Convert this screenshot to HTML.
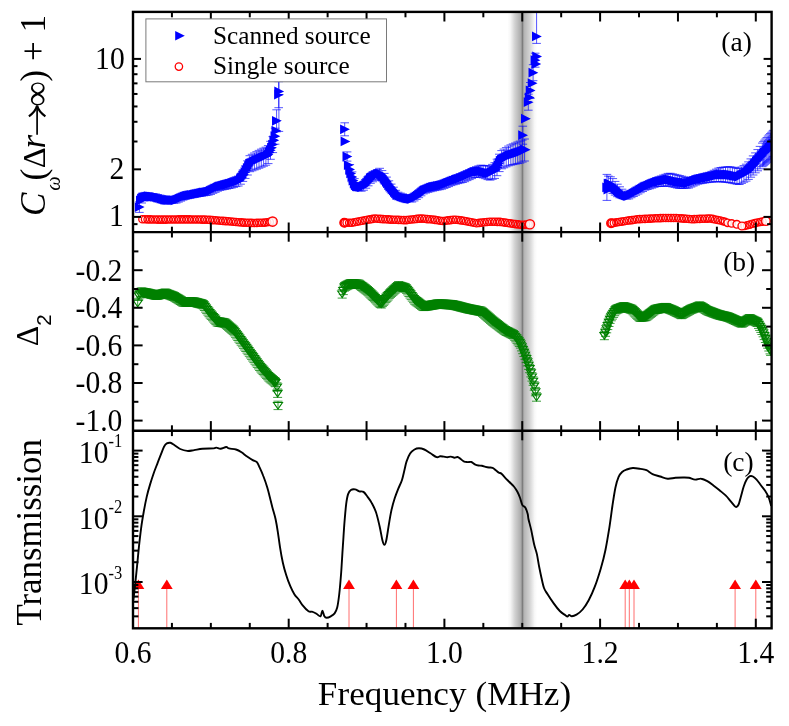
<!DOCTYPE html>
<html><head><meta charset="utf-8"><title>chart</title>
<style>html,body{margin:0;padding:0;background:#fff}body{width:789px;height:726px;overflow:hidden;position:relative;font-family:"Liberation Serif",serif}</style></head>
<body>
<svg width="789" height="726" viewBox="0 0 789 726" style="position:absolute;left:0;top:0;will-change:transform;font-family:'Liberation Serif',serif" shape-rendering="auto">
<defs><linearGradient id="gl" x1="0" x2="1" y1="0" y2="0"><stop offset="0" stop-color="#000" stop-opacity="0"/><stop offset="0.2" stop-color="#000" stop-opacity="0.035"/><stop offset="0.5" stop-color="#000" stop-opacity="0.18"/><stop offset="1" stop-color="#000" stop-opacity="0.37"/></linearGradient><linearGradient id="gr" x1="0" x2="1" y1="0" y2="0"><stop offset="0" stop-color="#000" stop-opacity="0.33"/><stop offset="0.5" stop-color="#000" stop-opacity="0.17"/><stop offset="0.82" stop-color="#000" stop-opacity="0.03"/><stop offset="1" stop-color="#000" stop-opacity="0"/></linearGradient><clipPath id="ca"><rect x="133.0" y="11.9" width="638.6" height="220.2"/></clipPath><clipPath id="cb"><rect x="133.0" y="232.1" width="638.6" height="198.6"/></clipPath><clipPath id="cc"><rect x="133.0" y="430.7" width="638.6" height="197.59999999999997"/></clipPath></defs>
<rect width="789" height="726" fill="#fff"/>
<rect x="507.3" y="11.9" width="15.2" height="616.4" fill="url(#gl)"/>
<rect x="522.5" y="11.9" width="14.7" height="616.4" fill="url(#gr)"/>
<rect x="521.7" y="11.9" width="1.6" height="616.4" fill="#000" fill-opacity="0.28"/>
<g clip-path="url(#ca)">
<path d="M139.4,201.8V212.4M135.1,201.8H143.7M135.1,212.4H143.7M141.7,194.2V203.0M137.4,194.2H146.0M137.4,203.0H146.0M144.0,193.4V200.9M139.7,193.4H148.3M139.7,200.9H148.3M146.3,193.3V200.0M142.0,193.3H150.6M142.0,200.0H150.6M148.6,193.2V199.2M144.3,193.2H152.9M144.3,199.2H152.9M150.9,193.5V199.5M146.6,193.5H155.2M146.6,199.5H155.2M153.2,193.7V199.7M148.9,193.7H157.5M148.9,199.7H157.5M155.5,193.9V199.9M151.2,193.9H159.8M151.2,199.9H159.8M157.8,194.5V200.5M153.5,194.5H162.1M153.5,200.5H162.1M160.1,195.1V201.1M155.8,195.1H164.4M155.8,201.1H164.4M162.4,195.8V201.8M158.1,195.8H166.7M158.1,201.8H166.7M164.7,196.5V202.5M160.4,196.5H169.0M160.4,202.5H169.0M167.0,196.9V202.9M162.7,196.9H171.3M162.7,202.9H171.3M169.3,197.0V203.0M165.0,197.0H173.6M165.0,203.0H173.6M171.6,197.1V203.1M167.3,197.1H175.9M167.3,203.1H175.9M173.9,197.2V203.2M169.6,197.2H178.2M169.6,203.2H178.2M176.2,197.0V203.0M171.9,197.0H180.5M171.9,203.0H180.5M178.5,196.1V202.1M174.2,196.1H182.8M174.2,202.1H182.8M180.8,195.1V201.1M176.5,195.1H185.1M176.5,201.1H185.1M183.1,194.1V200.1M178.8,194.1H187.4M178.8,200.1H187.4M185.4,193.2V199.2M181.1,193.2H189.7M181.1,199.2H189.7M187.7,192.7V198.7M183.4,192.7H192.0M183.4,198.7H192.0M190.0,192.2V198.2M185.7,192.2H194.3M185.7,198.2H194.3M192.3,191.8V197.8M188.0,191.8H196.6M188.0,197.8H196.6M194.6,191.3V197.3M190.3,191.3H198.9M190.3,197.3H198.9M196.9,190.9V196.9M192.6,190.9H201.2M192.6,196.9H201.2M199.2,190.3V196.5M194.9,190.3H203.5M194.9,196.5H203.5M201.5,189.8V196.2M197.2,189.8H205.8M197.2,196.2H205.8M203.8,189.2V195.8M199.5,189.2H208.1M199.5,195.8H208.1M206.1,188.6V195.5M201.8,188.6H210.4M201.8,195.5H210.4M208.4,188.1V195.1M204.1,188.1H212.7M204.1,195.1H212.7M210.7,187.1V194.4M206.4,187.1H215.0M206.4,194.4H215.0M213.0,185.9V193.3M208.7,185.9H217.3M208.7,193.3H217.3M215.3,184.6V192.3M211.0,184.6H219.6M211.0,192.3H219.6M217.6,183.4V191.2M213.3,183.4H221.9M213.3,191.2H221.9M219.9,182.3V190.4M215.6,182.3H224.2M215.6,190.4H224.2M222.2,181.6V189.9M217.9,181.6H226.5M217.9,189.9H226.5M224.5,180.9V189.5M220.2,180.9H228.8M220.2,189.5H228.8M226.8,180.2V189.0M222.5,180.2H231.1M222.5,189.0H231.1M229.1,179.5V188.5M224.8,179.5H233.4M224.8,188.5H233.4M231.4,178.8V188.0M227.1,178.8H235.7M227.1,188.0H235.7M233.7,177.9V187.3M229.4,177.9H238.0M229.4,187.3H238.0M236.0,177.0V186.6M231.7,177.0H240.3M231.7,186.6H240.3M238.3,176.1V186.0M234.0,176.1H242.6M234.0,186.0H242.6M240.6,173.8V184.2M236.3,173.8H244.9M236.3,184.2H244.9M242.9,170.1V181.4M238.6,170.1H247.2M238.6,181.4H247.2M245.2,166.0V178.4M240.9,166.0H249.5M240.9,178.4H249.5M247.5,160.8V175.0M243.2,160.8H251.8M243.2,175.0H251.8M249.8,155.7V171.7M245.5,155.7H254.1M245.5,171.7H254.1M252.1,154.3V170.8M247.8,154.3H256.4M247.8,170.8H256.4M254.4,153.0V169.9M250.1,153.0H258.7M250.1,169.9H258.7M256.7,151.7V169.1M252.4,151.7H261.0M252.4,169.1H261.0M259.0,150.4V168.2M254.7,150.4H263.3M254.7,168.2H263.3M261.3,149.2V167.2M257.0,149.2H265.6M257.0,167.2H265.6M263.6,148.2V166.2M259.3,148.2H267.9M259.3,166.2H267.9M265.9,147.2V165.2M261.6,147.2H270.2M261.6,165.2H270.2M268.2,145.6V163.6M263.9,145.6H272.5M263.9,163.6H272.5M270.5,141.3V159.3M266.2,141.3H274.8M266.2,159.3H274.8M272.8,136.6V152.6M268.5,136.6H277.1M268.5,152.6H277.1M275.1,128.2V144.2M270.8,128.2H279.4M270.8,144.2H279.4M276.6,109.8V131.8M272.3,109.8H280.9M272.3,131.8H280.9M278.7,81.7V107.7M274.4,81.7H283.0M274.4,107.7H283.0M278.9,51.4V131.4M274.6,51.4H283.2M274.6,131.4H283.2" fill="none" stroke="#0000ff" stroke-width="0.85" stroke-opacity="0.8"/>
<path d="M134.8,202.2L144.6,207.1L134.8,212.0ZM136.0,195.6L145.8,200.5L136.0,205.4ZM137.1,193.7L146.9,198.6L137.1,203.5ZM138.3,192.5L148.1,197.4L138.3,202.3ZM139.4,192.2L149.2,197.1L139.4,202.0ZM140.6,192.0L150.4,196.9L140.6,201.8ZM141.7,191.7L151.5,196.6L141.7,201.5ZM142.9,191.5L152.7,196.4L142.9,201.3ZM144.0,191.3L153.8,196.2L144.0,201.1ZM145.2,191.4L155.0,196.3L145.2,201.2ZM146.3,191.6L156.1,196.5L146.3,201.4ZM147.5,191.7L157.3,196.6L147.5,201.5ZM148.6,191.8L158.4,196.7L148.6,201.6ZM149.8,191.9L159.6,196.8L149.8,201.7ZM150.9,192.0L160.7,196.9L150.9,201.8ZM152.1,192.2L161.9,197.1L152.1,202.0ZM153.2,192.6L163.0,197.5L153.2,202.4ZM154.4,192.9L164.2,197.8L154.4,202.7ZM155.5,193.2L165.3,198.1L155.5,203.0ZM156.7,193.6L166.5,198.5L156.7,203.4ZM157.8,193.9L167.6,198.8L157.8,203.7ZM159.0,194.3L168.8,199.2L159.0,204.1ZM160.1,194.6L169.9,199.5L160.1,204.4ZM161.3,195.0L171.1,199.9L161.3,204.8ZM162.4,195.0L172.2,199.9L162.4,204.8ZM163.6,195.1L173.4,200.0L163.6,204.9ZM164.7,195.1L174.5,200.0L164.7,204.9ZM165.9,195.2L175.7,200.1L165.9,205.0ZM167.0,195.2L176.8,200.1L167.0,205.0ZM168.2,195.3L178.0,200.2L168.2,205.1ZM169.3,195.3L179.1,200.2L169.3,205.1ZM170.5,195.4L180.3,200.3L170.5,205.2ZM171.6,195.1L181.4,200.0L171.6,204.9ZM172.8,194.7L182.6,199.6L172.8,204.5ZM173.9,194.2L183.7,199.1L173.9,204.0ZM175.1,193.7L184.9,198.6L175.1,203.5ZM176.2,193.2L186.0,198.1L176.2,203.0ZM177.4,192.7L187.2,197.6L177.4,202.5ZM178.5,192.2L188.3,197.1L178.5,202.0ZM179.7,191.7L189.5,196.6L179.7,201.5ZM180.8,191.3L190.6,196.2L180.8,201.1ZM182.0,191.0L191.8,195.9L182.0,200.8ZM183.1,190.8L192.9,195.7L183.1,200.6ZM184.3,190.6L194.1,195.5L184.3,200.4ZM185.4,190.3L195.2,195.2L185.4,200.1ZM186.6,190.1L196.4,195.0L186.6,199.9ZM187.7,189.9L197.5,194.8L187.7,199.7ZM188.9,189.7L198.7,194.6L188.9,199.5ZM190.0,189.4L199.8,194.3L190.0,199.2ZM191.2,189.2L201.0,194.1L191.2,199.0ZM192.3,189.0L202.1,193.9L192.3,198.8ZM193.5,188.8L203.3,193.7L193.5,198.6ZM194.6,188.5L204.4,193.4L194.6,198.3ZM195.8,188.3L205.6,193.2L195.8,198.1ZM196.9,188.1L206.7,193.0L196.9,197.9ZM198.1,187.8L207.9,192.7L198.1,197.6ZM199.2,187.6L209.0,192.5L199.2,197.4ZM200.4,187.4L210.2,192.3L200.4,197.2ZM201.5,187.2L211.3,192.1L201.5,197.0ZM202.7,186.9L212.5,191.8L202.7,196.7ZM203.8,186.7L213.6,191.6L203.8,196.5ZM205.0,186.4L214.8,191.3L205.0,196.2ZM206.1,185.8L215.9,190.7L206.1,195.6ZM207.3,185.3L217.1,190.2L207.3,195.1ZM208.4,184.7L218.2,189.6L208.4,194.5ZM209.6,184.1L219.4,189.0L209.6,193.9ZM210.7,183.5L220.5,188.4L210.7,193.3ZM211.9,183.0L221.7,187.9L211.9,192.8ZM213.0,182.4L222.8,187.3L213.0,192.2ZM214.2,181.8L224.0,186.7L214.2,191.6ZM215.3,181.5L225.1,186.4L215.3,191.3ZM216.5,181.2L226.3,186.1L216.5,191.0ZM217.6,180.9L227.4,185.8L217.6,190.7ZM218.8,180.6L228.6,185.5L218.8,190.4ZM219.9,180.3L229.7,185.2L219.9,190.1ZM221.1,180.0L230.9,184.9L221.1,189.8ZM222.2,179.7L232.0,184.6L222.2,189.5ZM223.4,179.4L233.2,184.3L223.4,189.2ZM224.5,179.1L234.3,184.0L224.5,188.9ZM225.7,178.8L235.5,183.7L225.7,188.6ZM226.8,178.5L236.6,183.4L226.8,188.3ZM228.0,178.1L237.8,183.0L228.0,187.9ZM229.1,177.7L238.9,182.6L229.1,187.5ZM230.3,177.3L240.1,182.2L230.3,187.1ZM231.4,176.9L241.2,181.8L231.4,186.7ZM232.6,176.5L242.4,181.4L232.6,186.3ZM233.7,176.1L243.5,181.0L233.7,185.9ZM234.9,175.7L244.7,180.6L234.9,185.5ZM236.0,174.1L245.8,179.0L236.0,183.9ZM237.2,172.5L247.0,177.4L237.2,182.3ZM238.3,170.8L248.1,175.7L238.3,180.6ZM239.5,169.2L249.3,174.1L239.5,179.0ZM240.6,167.3L250.4,172.2L240.6,177.1ZM241.8,165.2L251.6,170.1L241.8,175.0ZM242.9,163.0L252.7,167.9L242.9,172.8ZM244.1,160.9L253.9,165.8L244.1,170.7ZM245.2,158.8L255.0,163.7L245.2,168.6ZM246.4,158.2L256.2,163.1L246.4,168.0ZM247.5,157.7L257.3,162.6L247.5,167.5ZM248.7,157.1L258.5,162.0L248.7,166.9ZM249.8,156.6L259.6,161.5L249.8,166.4ZM251.0,156.0L260.8,160.9L251.0,165.8ZM252.1,155.5L261.9,160.4L252.1,165.3ZM253.3,154.9L263.1,159.8L253.3,164.7ZM254.4,154.4L264.2,159.3L254.4,164.2ZM255.6,153.8L265.4,158.7L255.6,163.6ZM256.7,153.3L266.5,158.2L256.7,163.1ZM257.9,152.8L267.7,157.7L257.9,162.6ZM259.0,152.3L268.8,157.2L259.0,162.1ZM260.2,151.8L270.0,156.7L260.2,161.6ZM261.3,151.3L271.1,156.2L261.3,161.1ZM262.5,150.7L272.3,155.6L262.5,160.5ZM263.6,149.7L273.4,154.6L263.6,159.5ZM264.8,147.5L274.6,152.4L264.8,157.3ZM265.9,145.4L275.7,150.3L265.9,155.2ZM267.1,142.8L276.9,147.7L267.1,152.6ZM268.2,139.7L278.0,144.6L268.2,149.5ZM269.4,135.4L279.2,140.3L269.4,145.2ZM270.5,131.3L280.3,136.2L270.5,141.1ZM271.5,125.8L281.3,130.7L271.5,135.6ZM272.0,115.9L281.8,120.8L272.0,125.7ZM274.1,89.8L283.9,94.7L274.1,99.6ZM274.3,86.5L284.1,91.4L274.3,96.3Z" fill="#0000ff"/>
<path d="M344.7,122.8V135.8M340.4,122.8H349.0M340.4,135.8H349.0M347.1,151.9V161.1M342.8,151.9H351.4M342.8,161.1H351.4M349.8,164.5V174.5M345.5,164.5H354.1M345.5,174.5H354.1M352.1,171.9V181.9M347.8,171.9H356.4M347.8,181.9H356.4M354.4,178.6V188.0M350.1,178.6H358.7M350.1,188.0H358.7M356.7,182.3V190.3M352.4,182.3H361.0M352.4,190.3H361.0M359.0,182.7V190.7M354.7,182.7H363.3M354.7,190.7H363.3M361.3,183.2V191.2M357.0,183.2H365.6M357.0,191.2H365.6M363.6,182.2V190.2M359.3,182.2H367.9M359.3,190.2H367.9M365.9,179.9V188.2M361.6,179.9H370.2M361.6,188.2H370.2M368.2,176.7V185.8M363.9,176.7H372.5M363.9,185.8H372.5M370.5,173.5V183.3M366.2,173.5H374.8M366.2,183.3H374.8M372.8,171.8V181.8M368.5,171.8H377.1M368.5,181.8H377.1M375.1,170.6V180.6M370.8,170.6H379.4M370.8,180.6H379.4M377.4,169.5V179.5M373.1,169.5H381.7M373.1,179.5H381.7M379.7,168.3V178.3M375.4,168.3H384.0M375.4,178.3H384.0M382.0,170.6V180.6M377.7,170.6H386.3M377.7,180.6H386.3M384.3,173.4V183.2M380.0,173.4H388.6M380.0,183.2H388.6M386.6,177.1V186.2M382.3,177.1H390.9M382.3,186.2H390.9M388.9,180.8V189.1M384.6,180.8H393.2M384.6,189.1H393.2M391.2,184.1V191.7M386.9,184.1H395.5M386.9,191.7H395.5M393.5,187.2V194.2M389.2,187.2H397.8M389.2,194.2H397.8M395.8,190.3V196.6M391.5,190.3H400.1M391.5,196.6H400.1M398.1,192.2V198.2M393.8,192.2H402.4M393.8,198.2H402.4M400.4,193.1V199.1M396.1,193.1H404.7M396.1,199.1H404.7M402.7,193.9V199.9M398.4,193.9H407.0M398.4,199.9H407.0M405.0,194.7V200.7M400.7,194.7H409.3M400.7,200.7H409.3M407.3,195.3V201.3M403.0,195.3H411.6M403.0,201.3H411.6M409.6,195.7V201.7M405.3,195.7H413.9M405.3,201.7H413.9M411.9,196.0V202.0M407.6,196.0H416.2M407.6,202.0H416.2M414.2,194.9V200.9M409.9,194.9H418.5M409.9,200.9H418.5M416.5,193.4V199.4M412.2,193.4H420.8M412.2,199.4H420.8M418.8,191.7V197.7M414.5,191.7H423.1M414.5,197.7H423.1M421.1,189.8V195.8M416.8,189.8H425.4M416.8,195.8H425.4M423.4,187.9V193.9M419.1,187.9H427.7M419.1,193.9H427.7M425.7,186.5V193.0M421.4,186.5H430.0M421.4,193.0H430.0M428.0,185.3V192.3M423.7,185.3H432.3M423.7,192.3H432.3M430.3,184.0V191.7M426.0,184.0H434.6M426.0,191.7H434.6M432.6,183.1V191.1M428.3,183.1H436.9M428.3,191.1H436.9M434.9,182.6V190.6M430.6,182.6H439.2M430.6,190.6H439.2M437.2,182.1V190.1M432.9,182.1H441.5M432.9,190.1H441.5M439.5,181.7V189.7M435.2,181.7H443.8M435.2,189.7H443.8M441.8,181.2V189.2M437.5,181.2H446.1M437.5,189.2H446.1M444.1,180.4V188.4M439.8,180.4H448.4M439.8,188.4H448.4M446.4,179.5V187.5M442.1,179.5H450.7M442.1,187.5H450.7M448.7,178.6V186.6M444.4,178.6H453.0M444.4,186.6H453.0M451.0,177.6V185.6M446.7,177.6H455.3M446.7,185.6H455.3M453.3,176.7V184.8M449.0,176.7H457.6M449.0,184.8H457.6M455.6,175.7V184.2M451.3,175.7H459.9M451.3,184.2H459.9M457.9,174.7V183.6M453.6,174.7H462.2M453.6,183.6H462.2M460.2,173.7V183.0M455.9,173.7H464.5M455.9,183.0H464.5M462.5,172.7V182.5M458.2,172.7H466.8M458.2,182.5H466.8M464.8,171.7V181.7M460.5,171.7H469.1M460.5,181.7H469.1M467.1,170.6V180.6M462.8,170.6H471.4M462.8,180.6H471.4M469.4,169.6V179.6M465.1,169.6H473.7M465.1,179.6H473.7M471.7,168.6V178.6M467.4,168.6H476.0M467.4,178.6H476.0M474.0,167.5V177.5M469.7,167.5H478.3M469.7,177.5H478.3M476.3,166.7V177.2M472.0,166.7H480.6M472.0,177.2H480.6M478.6,165.9V177.1M474.3,165.9H482.9M474.3,177.1H482.9M480.9,165.2V177.1M476.6,165.2H485.2M476.6,177.1H485.2M483.2,165.4V177.9M478.9,165.4H487.5M478.9,177.9H487.5M485.5,165.7V178.7M481.2,165.7H489.8M481.2,178.7H489.8M487.8,166.0V179.6M483.5,166.0H492.1M483.5,179.6H492.1M490.1,166.0V180.1M485.8,166.0H494.4M485.8,180.1H494.4M492.4,164.4V179.3M488.1,164.4H496.7M488.1,179.3H496.7M494.7,162.7V178.4M490.4,162.7H499.0M490.4,178.4H499.0M497.0,159.2V175.7M492.7,159.2H501.3M492.7,175.7H501.3M499.3,154.2V171.6M495.0,154.2H503.6M495.0,171.6H503.6M501.6,150.6V168.8M497.3,150.6H505.9M497.3,168.8H505.9M503.9,149.1V167.8M499.6,149.1H508.2M499.6,167.8H508.2M506.2,147.6V166.8M501.9,147.6H510.5M501.9,166.8H510.5M508.5,146.1V165.8M504.2,146.1H512.8M504.2,165.8H512.8M510.8,144.9V165.1M506.5,144.9H515.1M506.5,165.1H515.1M513.1,143.9V164.6M508.8,143.9H517.4M508.8,164.6H517.4M515.4,143.0V164.1M511.1,143.0H519.7M511.1,164.1H519.7M517.7,142.0V163.6M513.4,142.0H522.0M513.4,163.6H522.0M520.0,141.1V163.1M515.7,141.1H524.3M515.7,163.1H524.3M522.3,140.1V162.1M518.0,140.1H526.6M518.0,162.1H526.6M524.6,139.0V161.0M520.3,139.0H528.9M520.3,161.0H528.9M522.8,126.2V144.2M518.5,126.2H527.1M518.5,144.2H527.1M528.3,94.2V110.2M524.0,94.2H532.6M524.0,110.2H532.6M530.3,82.5V98.5M526.0,82.5H534.6M526.0,98.5H534.6M533.1,64.7V80.7M528.8,64.7H537.4M528.8,80.7H537.4M535.2,53.2V67.2M530.9,53.2H539.5M530.9,67.2H539.5M536.6,6.4V43.4M532.3,6.4H540.9M532.3,43.4H540.9" fill="none" stroke="#0000ff" stroke-width="0.85" stroke-opacity="0.8"/>
<path d="M340.1,124.4L349.9,129.3L340.1,134.2ZM340.6,136.5L350.4,141.4L340.6,146.3ZM342.5,151.6L352.3,156.5L342.5,161.4ZM343.9,160.2L353.7,165.1L343.9,170.0ZM345.2,164.6L355.0,169.5L345.2,174.4ZM346.3,168.5L356.1,173.4L346.3,178.3ZM347.5,172.0L357.3,176.9L347.5,181.8ZM348.6,175.7L358.4,180.6L348.6,185.5ZM349.8,178.4L359.6,183.3L349.8,188.2ZM350.9,180.4L360.7,185.3L350.9,190.2ZM352.1,181.4L361.9,186.3L352.1,191.2ZM353.2,181.6L363.0,186.5L353.2,191.4ZM354.4,181.8L364.2,186.7L354.4,191.6ZM355.5,182.0L365.3,186.9L355.5,191.8ZM356.7,182.3L366.5,187.2L356.7,192.1ZM357.8,182.1L367.6,187.0L357.8,191.9ZM359.0,181.3L368.8,186.2L359.0,191.1ZM360.1,180.4L369.9,185.3L360.1,190.2ZM361.3,179.1L371.1,184.0L361.3,188.9ZM362.4,177.7L372.2,182.6L362.4,187.5ZM363.6,176.3L373.4,181.2L363.6,186.1ZM364.7,174.9L374.5,179.8L364.7,184.7ZM365.9,173.5L375.7,178.4L365.9,183.3ZM367.0,172.5L376.8,177.4L367.0,182.3ZM368.2,171.9L378.0,176.8L368.2,181.7ZM369.3,171.3L379.1,176.2L369.3,181.1ZM370.5,170.7L380.3,175.6L370.5,180.5ZM371.6,170.2L381.4,175.1L371.6,180.0ZM372.8,169.6L382.6,174.5L372.8,179.4ZM373.9,169.0L383.7,173.9L373.9,178.8ZM375.1,168.4L384.9,173.3L375.1,178.2ZM376.2,169.5L386.0,174.4L376.2,179.3ZM377.4,170.7L387.2,175.6L377.4,180.5ZM378.5,172.0L388.3,176.9L378.5,181.8ZM379.7,173.4L389.5,178.3L379.7,183.2ZM380.8,175.1L390.6,180.0L380.8,184.9ZM382.0,176.7L391.8,181.6L382.0,186.5ZM383.1,178.4L392.9,183.3L383.1,188.2ZM384.3,180.1L394.1,185.0L384.3,189.9ZM385.4,181.7L395.2,186.6L385.4,191.5ZM386.6,183.0L396.4,187.9L386.6,192.8ZM387.7,184.4L397.5,189.3L387.7,194.2ZM388.9,185.8L398.7,190.7L388.9,195.6ZM390.0,187.2L399.8,192.1L390.0,197.0ZM391.2,188.5L401.0,193.4L391.2,198.3ZM392.3,189.9L402.1,194.8L392.3,199.7ZM393.5,190.3L403.3,195.2L393.5,200.1ZM394.6,190.7L404.4,195.6L394.6,200.5ZM395.8,191.2L405.6,196.1L395.8,201.0ZM396.9,191.6L406.7,196.5L396.9,201.4ZM398.1,192.0L407.9,196.9L398.1,201.8ZM399.2,192.4L409.0,197.3L399.2,202.2ZM400.4,192.8L410.2,197.7L400.4,202.6ZM401.5,193.2L411.3,198.1L401.5,203.0ZM402.7,193.4L412.5,198.3L402.7,203.2ZM403.8,193.6L413.6,198.5L403.8,203.4ZM405.0,193.8L414.8,198.7L405.0,203.6ZM406.1,194.0L415.9,198.9L406.1,203.8ZM407.3,194.1L417.1,199.0L407.3,203.9ZM408.4,193.7L418.2,198.6L408.4,203.5ZM409.6,193.0L419.4,197.9L409.6,202.8ZM410.7,192.2L420.5,197.1L410.7,202.0ZM411.9,191.5L421.7,196.4L411.9,201.3ZM413.0,190.8L422.8,195.7L413.0,200.6ZM414.2,189.8L424.0,194.7L414.2,199.6ZM415.3,188.9L425.1,193.8L415.3,198.7ZM416.5,187.9L426.3,192.8L416.5,197.7ZM417.6,187.0L427.4,191.9L417.6,196.8ZM418.8,186.0L428.6,190.9L418.8,195.8ZM419.9,185.3L429.7,190.2L419.9,195.1ZM421.1,184.9L430.9,189.8L421.1,194.7ZM422.2,184.4L432.0,189.3L422.2,194.2ZM423.4,183.9L433.2,188.8L423.4,193.7ZM424.5,183.4L434.3,188.3L424.5,193.2ZM425.7,182.9L435.5,187.8L425.7,192.7ZM426.8,182.5L436.6,187.4L426.8,192.3ZM428.0,182.2L437.8,187.1L428.0,192.0ZM429.1,182.0L438.9,186.9L429.1,191.8ZM430.3,181.7L440.1,186.6L430.3,191.5ZM431.4,181.5L441.2,186.4L431.4,191.3ZM432.6,181.2L442.4,186.1L432.6,191.0ZM433.7,181.0L443.5,185.9L433.7,190.8ZM434.9,180.8L444.7,185.7L434.9,190.6ZM436.0,180.5L445.8,185.4L436.0,190.3ZM437.2,180.3L447.0,185.2L437.2,190.1ZM438.3,179.9L448.1,184.8L438.3,189.7ZM439.5,179.5L449.3,184.4L439.5,189.3ZM440.6,179.0L450.4,183.9L440.6,188.8ZM441.8,178.6L451.6,183.5L441.8,188.4ZM442.9,178.1L452.7,183.0L442.9,187.9ZM444.1,177.7L453.9,182.6L444.1,187.5ZM445.2,177.2L455.0,182.1L445.2,187.0ZM446.4,176.7L456.2,181.6L446.4,186.5ZM447.5,176.3L457.3,181.2L447.5,186.1ZM448.7,175.8L458.5,180.7L448.7,185.6ZM449.8,175.4L459.6,180.3L449.8,185.2ZM451.0,175.0L460.8,179.9L451.0,184.8ZM452.1,174.6L461.9,179.5L452.1,184.4ZM453.3,174.3L463.1,179.2L453.3,184.1ZM454.4,173.9L464.2,178.8L454.4,183.7ZM455.6,173.5L465.4,178.4L455.6,183.3ZM456.7,173.1L466.5,178.0L456.7,182.9ZM457.9,172.7L467.7,177.6L457.9,182.5ZM459.0,172.3L468.8,177.2L459.0,182.1ZM460.2,171.8L470.0,176.7L460.2,181.6ZM461.3,171.3L471.1,176.2L461.3,181.1ZM462.5,170.7L472.3,175.6L462.5,180.5ZM463.6,170.2L473.4,175.1L463.6,180.0ZM464.8,169.7L474.6,174.6L464.8,179.5ZM465.9,169.2L475.7,174.1L465.9,179.0ZM467.1,168.7L476.9,173.6L467.1,178.5ZM468.2,168.1L478.0,173.0L468.2,177.9ZM469.4,167.6L479.2,172.5L469.4,177.4ZM470.5,167.2L480.3,172.1L470.5,177.0ZM471.7,167.0L481.5,171.9L471.7,176.8ZM472.8,166.8L482.6,171.7L472.8,176.6ZM474.0,166.6L483.8,171.5L474.0,176.4ZM475.1,166.4L484.9,171.3L475.1,176.2ZM476.3,166.2L486.1,171.1L476.3,176.0ZM477.4,166.4L487.2,171.3L477.4,176.2ZM478.6,166.7L488.4,171.6L478.6,176.5ZM479.7,167.0L489.5,171.9L479.7,176.8ZM480.9,167.3L490.7,172.2L480.9,177.1ZM482.0,167.6L491.8,172.5L482.0,177.4ZM483.2,167.9L493.0,172.8L483.2,177.7ZM484.3,168.2L494.1,173.1L484.3,178.0ZM485.5,168.2L495.3,173.1L485.5,178.0ZM486.6,167.5L496.4,172.4L486.6,177.3ZM487.8,166.9L497.6,171.8L487.8,176.7ZM488.9,166.3L498.7,171.2L488.9,176.1ZM490.1,165.6L499.9,170.5L490.1,175.4ZM491.2,164.8L501.0,169.7L491.2,174.6ZM492.4,162.5L502.2,167.4L492.4,172.3ZM493.5,160.3L503.3,165.2L493.5,170.1ZM494.7,158.0L504.5,162.9L494.7,167.8ZM495.8,155.7L505.6,160.6L495.8,165.5ZM497.0,154.8L506.8,159.7L497.0,164.6ZM498.1,154.2L507.9,159.1L498.1,164.0ZM499.3,153.6L509.1,158.5L499.3,163.4ZM500.4,152.9L510.2,157.8L500.4,162.7ZM501.6,152.3L511.4,157.2L501.6,162.1ZM502.7,151.7L512.5,156.6L502.7,161.5ZM503.9,151.1L513.7,156.0L503.9,160.9ZM505.0,150.5L514.8,155.4L505.0,160.3ZM506.2,150.1L516.0,155.0L506.2,159.9ZM507.3,149.7L517.1,154.6L507.3,159.5ZM508.5,149.4L518.3,154.3L508.5,159.2ZM509.6,149.0L519.4,153.9L509.6,158.8ZM510.8,148.6L520.6,153.5L510.8,158.4ZM511.9,148.3L521.7,153.2L511.9,158.1ZM513.1,147.9L522.9,152.8L513.1,157.7ZM514.2,147.5L524.0,152.4L514.2,157.3ZM515.4,147.2L525.2,152.1L515.4,157.0ZM516.5,146.7L526.3,151.6L516.5,156.5ZM517.7,146.2L527.5,151.1L517.7,156.0ZM518.8,145.7L528.6,150.6L518.8,155.5ZM520.0,145.1L529.8,150.0L520.0,154.9ZM520.8,144.8L530.6,149.7L520.8,154.6ZM518.2,130.3L528.0,135.2L518.2,140.1ZM521.0,113.8L530.8,118.7L521.0,123.6ZM523.7,97.3L533.5,102.2L523.7,107.1ZM524.8,92.5L534.6,97.4L524.8,102.3ZM525.7,85.6L535.5,90.5L525.7,95.4ZM527.7,78.3L537.5,83.2L527.7,88.1ZM528.5,67.8L538.3,72.7L528.5,77.6ZM531.4,59.1L541.2,64.0L531.4,68.9ZM530.6,55.3L540.4,60.2L530.6,65.1ZM532.2,51.6L542.0,56.5L532.2,61.4ZM532.0,31.5L541.8,36.4L532.0,41.3Z" fill="#0000ff"/>
<path d="M606.9,174.4V200.4M602.6,174.4H611.2M602.6,200.4H611.2M608.3,176.1V191.1M604.0,176.1H612.6M604.0,191.1H612.6M610.5,176.8V191.8M606.2,176.8H614.8M606.2,191.8H614.8M612.8,178.6V193.5M608.5,178.6H617.1M608.5,193.5H617.1M615.1,181.4V195.1M610.8,181.4H619.4M610.8,195.1H619.4M617.4,184.2V196.7M613.1,184.2H621.7M613.1,196.7H621.7M619.7,186.8V197.8M615.4,186.8H624.0M615.4,197.8H624.0M622.0,189.2V198.2M617.7,189.2H626.3M617.7,198.2H626.3M624.3,191.1V198.7M620.0,191.1H628.6M620.0,198.7H628.6M626.6,192.4V199.0M622.3,192.4H630.9M622.3,199.0H630.9M628.9,192.9V198.9M624.6,192.9H633.2M624.6,198.9H633.2M631.2,191.7V197.7M626.9,191.7H635.5M626.9,197.7H635.5M633.5,190.5V196.5M629.2,190.5H637.8M629.2,196.5H637.8M635.8,189.1V195.2M631.5,189.1H640.1M631.5,195.2H640.1M638.1,187.7V194.0M633.8,187.7H642.4M633.8,194.0H642.4M640.4,186.2V192.7M636.1,186.2H644.7M636.1,192.7H644.7M642.7,184.7V191.5M638.4,184.7H647.0M638.4,191.5H647.0M645.0,183.3V190.2M640.7,183.3H649.3M640.7,190.2H649.3M647.3,182.1V189.5M643.0,182.1H651.6M643.0,189.5H651.6M649.6,181.0V188.8M645.3,181.0H653.9M645.3,188.8H653.9M651.9,179.9V188.1M647.6,179.9H656.2M647.6,188.1H656.2M654.2,178.8V187.3M649.9,178.8H658.5M649.9,187.3H658.5M656.5,177.7V186.6M652.2,177.7H660.8M652.2,186.6H660.8M658.8,176.8V186.3M654.5,176.8H663.1M654.5,186.3H663.1M661.1,176.0V186.3M656.8,176.0H665.4M656.8,186.3H665.4M663.4,175.1V186.2M659.1,175.1H667.7M659.1,186.2H667.7M665.7,174.3V186.1M661.4,174.3H670.0M661.4,186.1H670.0M668.0,173.4V186.0M663.7,173.4H672.3M663.7,186.0H672.3M670.3,173.3V186.3M666.0,173.3H674.6M666.0,186.3H674.6M672.6,173.9V186.9M668.3,173.9H676.9M668.3,186.9H676.9M674.9,174.4V187.4M670.6,174.4H679.2M670.6,187.4H679.2M677.2,175.0V188.0M672.9,175.0H681.5M672.9,188.0H681.5M679.5,175.6V188.4M675.2,175.6H683.8M675.2,188.4H683.8M681.8,176.2V188.3M677.5,176.2H686.1M677.5,188.3H686.1M684.1,176.9V188.2M679.8,176.9H688.4M679.8,188.2H688.4M686.4,177.5V188.2M682.1,177.5H690.7M682.1,188.2H690.7M688.7,178.0V188.0M684.4,178.0H693.0M684.4,188.0H693.0M691.0,177.3V187.0M686.7,177.3H695.3M686.7,187.0H695.3M693.3,176.5V186.0M689.0,176.5H697.6M689.0,186.0H697.6M695.6,175.8V185.0M691.3,175.8H699.9M691.3,185.0H699.9M697.9,175.0V184.1M693.6,175.0H702.2M693.6,184.1H702.2M700.2,174.5V183.7M695.9,174.5H704.5M695.9,183.7H704.5M702.5,173.9V183.3M698.2,173.9H706.8M698.2,183.3H706.8M704.8,173.4V182.9M700.5,173.4H709.1M700.5,182.9H709.1M707.1,172.8V182.6M702.8,172.8H711.4M702.8,182.6H711.4M709.4,172.3V182.2M705.1,172.3H713.7M705.1,182.2H713.7M711.7,171.4V182.0M707.4,171.4H716.0M707.4,182.0H716.0M714.0,170.3V181.9M709.7,170.3H718.3M709.7,181.9H718.3M716.3,169.2V181.8M712.0,169.2H720.6M712.0,181.8H720.6M718.6,168.1V181.7M714.3,168.1H722.9M714.3,181.7H722.9M720.9,167.5V181.7M716.6,167.5H725.2M716.6,181.7H725.2M723.2,167.2V182.0M718.9,167.2H727.5M718.9,182.0H727.5M725.5,167.0V182.2M721.2,167.0H729.8M721.2,182.2H729.8M727.8,166.8V182.4M723.5,166.8H732.1M723.5,182.4H732.1M730.1,166.8V182.8M725.8,166.8H734.4M725.8,182.8H734.4M732.4,167.2V183.2M728.1,167.2H736.7M728.1,183.2H736.7M734.7,167.7V183.7M730.4,167.7H739.0M730.4,183.7H739.0M737.0,168.2V184.2M732.7,168.2H741.3M732.7,184.2H741.3M739.3,168.4V184.5M735.0,168.4H743.6M735.0,184.5H743.6M741.6,167.0V183.4M737.3,167.0H745.9M737.3,183.4H745.9M743.9,165.6V182.2M739.6,165.6H748.2M739.6,182.2H748.2M746.2,164.2V181.1M741.9,164.2H750.5M741.9,181.1H750.5M748.5,161.9V179.4M744.2,161.9H752.8M744.2,179.4H752.8M750.8,158.9V177.2M746.5,158.9H755.1M746.5,177.2H755.1M753.1,155.9V175.0M748.8,155.9H757.4M748.8,175.0H757.4M755.4,152.9V172.8M751.1,152.9H759.7M751.1,172.8H759.7M757.7,149.6V170.8M753.4,149.6H762.0M753.4,170.8H762.0M760.0,146.4V168.8M755.7,146.4H764.3M755.7,168.8H764.3M762.3,143.1V166.7M758.0,143.1H766.6M758.0,166.7H766.6M763.5,141.6V165.7M759.2,141.6H767.8M759.2,165.7H767.8M764.6,140.2V164.7M760.3,140.2H768.9M760.3,164.7H768.9M765.8,138.9V163.7M761.5,138.9H770.1M761.5,163.7H770.1M766.9,137.5V162.6M762.6,137.5H771.2M762.6,162.6H771.2M768.1,136.1V161.6M763.8,136.1H772.4M763.8,161.6H772.4M769.2,134.8V160.6M764.9,134.8H773.5M764.9,160.6H773.5M770.4,133.5V159.5M766.1,133.5H774.7M766.1,159.5H774.7M771.5,132.3V158.3M767.2,132.3H775.8M767.2,158.3H775.8M772.7,131.1V157.1M768.4,131.1H777.0M768.4,157.1H777.0M773.5,130.3V156.3M769.2,130.3H777.8M769.2,156.3H777.8" fill="none" stroke="#0000ff" stroke-width="0.85" stroke-opacity="0.8"/>
<path d="M602.3,182.5L612.1,187.4L602.3,192.3ZM603.5,184.7L613.3,189.6L603.5,194.5ZM603.7,178.7L613.5,183.6L603.7,188.5ZM604.8,178.5L614.6,183.4L604.8,188.3ZM605.9,179.4L615.8,184.3L605.9,189.2ZM607.1,180.3L616.9,185.2L607.1,190.1ZM608.2,181.2L618.0,186.1L608.2,191.0ZM609.4,182.3L619.2,187.2L609.4,192.1ZM610.5,183.4L620.3,188.3L610.5,193.2ZM611.7,184.5L621.5,189.4L611.7,194.3ZM612.8,185.6L622.6,190.5L612.8,195.4ZM614.0,186.6L623.8,191.5L614.0,196.4ZM615.1,187.4L624.9,192.3L615.1,197.2ZM616.3,188.1L626.1,193.0L616.3,197.9ZM617.4,188.8L627.2,193.7L617.4,198.6ZM618.6,189.5L628.4,194.4L618.6,199.3ZM619.7,190.0L629.5,194.9L619.7,199.8ZM620.9,190.4L630.7,195.3L620.9,200.2ZM622.0,190.8L631.8,195.7L622.0,200.6ZM623.2,191.2L633.0,196.1L623.2,201.0ZM624.3,191.0L634.1,195.9L624.3,200.8ZM625.5,190.4L635.3,195.3L625.5,200.2ZM626.6,189.8L636.4,194.7L626.6,199.6ZM627.8,189.2L637.6,194.1L627.8,199.0ZM628.9,188.6L638.7,193.5L628.9,198.4ZM630.1,188.0L639.9,192.9L630.1,197.8ZM631.2,187.3L641.0,192.2L631.2,197.1ZM632.4,186.6L642.2,191.5L632.4,196.4ZM633.5,185.9L643.3,190.8L633.5,195.7ZM634.7,185.2L644.5,190.1L634.7,195.0ZM635.8,184.6L645.6,189.5L635.8,194.4ZM637.0,183.9L646.8,188.8L637.0,193.7ZM638.1,183.2L647.9,188.1L638.1,193.0ZM639.3,182.5L649.1,187.4L639.3,192.3ZM640.4,181.8L650.2,186.7L640.4,191.6ZM641.6,181.4L651.4,186.3L641.6,191.2ZM642.7,180.9L652.5,185.8L642.7,190.7ZM643.9,180.5L653.7,185.4L643.9,190.3ZM645.0,180.0L654.8,184.9L645.0,189.8ZM646.2,179.5L656.0,184.4L646.2,189.3ZM647.3,179.1L657.1,184.0L647.3,188.9ZM648.5,178.6L658.3,183.5L648.5,188.4ZM649.6,178.2L659.4,183.1L649.6,188.0ZM650.8,177.7L660.6,182.6L650.8,187.5ZM651.9,177.3L661.7,182.2L651.9,187.1ZM653.1,176.9L662.9,181.8L653.1,186.7ZM654.2,176.7L664.0,181.6L654.2,186.5ZM655.4,176.4L665.2,181.3L655.4,186.2ZM656.5,176.2L666.3,181.1L656.5,186.0ZM657.7,176.0L667.5,180.9L657.7,185.8ZM658.8,175.8L668.6,180.7L658.8,185.6ZM660.0,175.5L669.8,180.4L660.0,185.3ZM661.1,175.3L670.9,180.2L661.1,185.1ZM662.3,175.1L672.1,180.0L662.3,184.9ZM663.4,174.8L673.2,179.7L663.4,184.6ZM664.6,174.6L674.4,179.5L664.6,184.4ZM665.7,174.9L675.5,179.8L665.7,184.7ZM666.9,175.2L676.7,180.1L666.9,185.0ZM668.0,175.5L677.8,180.4L668.0,185.3ZM669.2,175.7L679.0,180.6L669.2,185.5ZM670.3,176.0L680.1,180.9L670.3,185.8ZM671.5,176.3L681.3,181.2L671.5,186.1ZM672.6,176.6L682.4,181.5L672.6,186.4ZM673.8,176.9L683.6,181.8L673.8,186.7ZM674.9,177.1L684.7,182.0L674.9,186.9ZM676.1,177.2L685.9,182.1L676.1,187.0ZM677.2,177.4L687.0,182.3L677.2,187.2ZM678.4,177.5L688.2,182.4L678.4,187.3ZM679.5,177.7L689.3,182.6L679.5,187.5ZM680.7,177.8L690.5,182.7L680.7,187.6ZM681.8,177.9L691.6,182.8L681.8,187.7ZM683.0,178.1L692.8,183.0L683.0,187.9ZM684.1,178.1L693.9,183.0L684.1,187.9ZM685.3,177.7L695.1,182.6L685.3,187.5ZM686.4,177.2L696.2,182.1L686.4,187.0ZM687.6,176.8L697.4,181.7L687.6,186.6ZM688.7,176.4L698.5,181.3L688.7,186.2ZM689.9,176.0L699.7,180.9L689.9,185.8ZM691.0,175.5L700.8,180.4L691.0,185.3ZM692.2,175.1L702.0,180.0L692.2,184.9ZM693.3,174.7L703.1,179.6L693.3,184.5ZM694.5,174.4L704.3,179.3L694.5,184.2ZM695.6,174.2L705.4,179.1L695.6,184.0ZM696.8,173.9L706.6,178.8L696.8,183.7ZM697.9,173.7L707.7,178.6L697.9,183.5ZM699.1,173.5L708.9,178.4L699.1,183.3ZM700.2,173.3L710.0,178.2L700.2,183.1ZM701.4,173.0L711.2,177.9L701.4,182.8ZM702.5,172.8L712.3,177.7L702.5,182.6ZM703.7,172.6L713.5,177.5L703.7,182.4ZM704.8,172.3L714.6,177.2L704.8,182.1ZM706.0,172.1L715.8,177.0L706.0,181.9ZM707.1,171.8L716.9,176.7L707.1,181.6ZM708.3,171.5L718.1,176.4L708.3,181.3ZM709.4,171.2L719.2,176.1L709.4,181.0ZM710.6,170.9L720.4,175.8L710.6,180.7ZM711.7,170.6L721.5,175.5L711.7,180.4ZM712.9,170.3L722.7,175.2L712.9,180.1ZM714.0,170.0L723.8,174.9L714.0,179.8ZM715.2,169.7L725.0,174.6L715.2,179.5ZM716.3,169.7L726.1,174.6L716.3,179.5ZM717.5,169.7L727.3,174.6L717.5,179.5ZM718.6,169.7L728.4,174.6L718.6,179.5ZM719.8,169.7L729.6,174.6L719.8,179.5ZM720.9,169.7L730.7,174.6L720.9,179.5ZM722.1,169.7L731.9,174.6L722.1,179.5ZM723.2,169.7L733.0,174.6L723.2,179.5ZM724.4,169.7L734.2,174.6L724.4,179.5ZM725.5,169.9L735.3,174.8L725.5,179.7ZM726.7,170.1L736.5,175.0L726.7,179.9ZM727.8,170.3L737.6,175.2L727.8,180.1ZM729.0,170.6L738.8,175.5L729.0,180.4ZM730.1,170.8L739.9,175.7L730.1,180.6ZM731.3,171.0L741.1,175.9L731.3,180.8ZM732.4,171.3L742.2,176.2L732.4,181.1ZM733.6,171.5L743.4,176.4L733.6,181.3ZM734.7,171.6L744.5,176.5L734.7,181.4ZM735.9,170.9L745.7,175.8L735.9,180.7ZM737.0,170.3L746.8,175.2L737.0,180.1ZM738.2,169.7L748.0,174.6L738.2,179.5ZM739.3,169.0L749.1,173.9L739.3,178.8ZM740.5,168.4L750.3,173.3L740.5,178.2ZM741.6,167.8L751.4,172.7L741.6,177.6ZM742.8,167.0L752.6,171.9L742.8,176.8ZM743.9,165.7L753.7,170.6L743.9,175.5ZM745.1,164.4L754.9,169.3L745.1,174.2ZM746.2,163.1L756.0,168.0L746.2,172.9ZM747.4,161.8L757.2,166.7L747.4,171.6ZM748.5,160.5L758.3,165.4L748.5,170.3ZM749.7,159.3L759.5,164.2L749.7,169.1ZM750.8,158.0L760.6,162.9L750.8,167.8ZM752.0,156.6L761.8,161.5L752.0,166.4ZM753.1,155.3L762.9,160.2L753.1,165.1ZM754.3,154.0L764.1,158.9L754.3,163.8ZM755.4,152.7L765.2,157.6L755.4,162.5ZM756.6,151.3L766.4,156.2L756.6,161.1ZM757.7,150.0L767.5,154.9L757.7,159.8ZM758.9,148.8L768.7,153.7L758.9,158.6ZM760.0,147.6L769.8,152.5L760.0,157.4ZM761.2,146.4L771.0,151.3L761.2,156.2ZM762.3,145.2L772.1,150.1L762.3,155.0ZM763.5,144.0L773.3,148.9L763.5,153.8ZM764.6,142.8L774.4,147.7L764.6,152.6ZM765.8,141.6L775.6,146.5L765.8,151.4ZM766.9,140.4L776.7,145.3L766.9,150.2ZM768.1,139.2L777.9,144.1L768.1,149.0ZM768.9,138.4L778.7,143.3L768.9,148.2Z" fill="#0000ff"/>
<g fill="none" stroke="#ff0000" stroke-width="1.3"><circle cx="142.4" cy="219.3" r="3.65"/><circle cx="145.0" cy="219.3" r="3.65"/><circle cx="147.6" cy="219.4" r="3.65"/><circle cx="150.2" cy="219.4" r="3.65"/><circle cx="152.8" cy="219.5" r="3.65"/><circle cx="155.4" cy="219.5" r="3.65"/><circle cx="158.0" cy="219.6" r="3.65"/><circle cx="160.6" cy="219.6" r="3.65"/><circle cx="163.2" cy="219.6" r="3.65"/><circle cx="165.8" cy="219.6" r="3.65"/><circle cx="168.4" cy="219.5" r="3.65"/><circle cx="171.0" cy="219.5" r="3.65"/><circle cx="173.6" cy="219.5" r="3.65"/><circle cx="176.2" cy="219.5" r="3.65"/><circle cx="178.8" cy="219.4" r="3.65"/><circle cx="181.4" cy="219.4" r="3.65"/><circle cx="184.0" cy="219.4" r="3.65"/><circle cx="186.6" cy="219.4" r="3.65"/><circle cx="189.2" cy="219.4" r="3.65"/><circle cx="191.8" cy="219.5" r="3.65"/><circle cx="194.4" cy="219.5" r="3.65"/><circle cx="197.0" cy="219.5" r="3.65"/><circle cx="199.6" cy="219.5" r="3.65"/><circle cx="202.2" cy="219.6" r="3.65"/><circle cx="204.8" cy="219.6" r="3.65"/><circle cx="207.4" cy="219.8" r="3.65"/><circle cx="210.0" cy="219.9" r="3.65"/><circle cx="212.6" cy="220.1" r="3.65"/><circle cx="215.2" cy="220.3" r="3.65"/><circle cx="217.8" cy="220.5" r="3.65"/><circle cx="220.4" cy="220.7" r="3.65"/><circle cx="223.0" cy="220.9" r="3.65"/><circle cx="225.6" cy="221.1" r="3.65"/><circle cx="228.2" cy="221.3" r="3.65"/><circle cx="230.8" cy="221.5" r="3.65"/><circle cx="233.4" cy="221.8" r="3.65"/><circle cx="236.0" cy="222.0" r="3.65"/><circle cx="238.6" cy="222.3" r="3.65"/><circle cx="241.2" cy="222.4" r="3.65"/><circle cx="243.8" cy="222.6" r="3.65"/><circle cx="246.4" cy="222.7" r="3.65"/><circle cx="249.0" cy="222.8" r="3.65"/><circle cx="251.6" cy="222.9" r="3.65"/><circle cx="254.2" cy="223.0" r="3.65"/><circle cx="256.8" cy="222.9" r="3.65"/><circle cx="259.4" cy="222.8" r="3.65"/><circle cx="262.0" cy="222.7" r="3.65"/><circle cx="264.6" cy="222.6" r="3.65"/><circle cx="267.2" cy="222.3" r="3.65"/><circle cx="269.8" cy="221.9" r="3.65"/><circle cx="272.3" cy="221.6" r="3.65"/></g>
<g fill="none" stroke="#ff0000" stroke-width="1.3"><circle cx="344.0" cy="222.8" r="3.65"/><circle cx="346.6" cy="222.8" r="3.65"/><circle cx="349.2" cy="222.8" r="3.65"/><circle cx="351.8" cy="222.7" r="3.65"/><circle cx="354.4" cy="222.2" r="3.65"/><circle cx="357.0" cy="221.7" r="3.65"/><circle cx="359.6" cy="221.2" r="3.65"/><circle cx="362.2" cy="220.7" r="3.65"/><circle cx="364.8" cy="220.3" r="3.65"/><circle cx="367.4" cy="219.8" r="3.65"/><circle cx="370.0" cy="219.4" r="3.65"/><circle cx="372.6" cy="218.9" r="3.65"/><circle cx="375.2" cy="218.5" r="3.65"/><circle cx="377.8" cy="218.7" r="3.65"/><circle cx="380.4" cy="218.9" r="3.65"/><circle cx="383.0" cy="219.1" r="3.65"/><circle cx="385.6" cy="219.3" r="3.65"/><circle cx="388.2" cy="219.4" r="3.65"/><circle cx="390.8" cy="219.6" r="3.65"/><circle cx="393.4" cy="219.7" r="3.65"/><circle cx="396.0" cy="219.8" r="3.65"/><circle cx="398.6" cy="219.9" r="3.65"/><circle cx="401.2" cy="220.0" r="3.65"/><circle cx="403.8" cy="220.1" r="3.65"/><circle cx="406.4" cy="220.1" r="3.65"/><circle cx="409.0" cy="219.8" r="3.65"/><circle cx="411.6" cy="219.5" r="3.65"/><circle cx="414.2" cy="219.2" r="3.65"/><circle cx="416.8" cy="218.9" r="3.65"/><circle cx="419.4" cy="218.6" r="3.65"/><circle cx="422.0" cy="218.6" r="3.65"/><circle cx="424.6" cy="218.8" r="3.65"/><circle cx="427.2" cy="219.1" r="3.65"/><circle cx="429.8" cy="219.3" r="3.65"/><circle cx="432.4" cy="219.5" r="3.65"/><circle cx="435.0" cy="219.9" r="3.65"/><circle cx="437.6" cy="220.3" r="3.65"/><circle cx="440.2" cy="220.8" r="3.65"/><circle cx="442.8" cy="221.0" r="3.65"/><circle cx="445.4" cy="220.7" r="3.65"/><circle cx="448.0" cy="220.4" r="3.65"/><circle cx="450.6" cy="220.1" r="3.65"/><circle cx="453.2" cy="219.8" r="3.65"/><circle cx="455.8" cy="219.7" r="3.65"/><circle cx="458.4" cy="220.0" r="3.65"/><circle cx="461.0" cy="220.4" r="3.65"/><circle cx="463.6" cy="220.7" r="3.65"/><circle cx="466.2" cy="221.2" r="3.65"/><circle cx="468.8" cy="221.7" r="3.65"/><circle cx="471.4" cy="222.2" r="3.65"/><circle cx="474.0" cy="222.7" r="3.65"/><circle cx="476.6" cy="223.2" r="3.65"/><circle cx="479.2" cy="222.9" r="3.65"/><circle cx="481.8" cy="222.6" r="3.65"/><circle cx="484.4" cy="222.3" r="3.65"/><circle cx="487.0" cy="222.0" r="3.65"/><circle cx="489.6" cy="221.7" r="3.65"/><circle cx="492.2" cy="221.8" r="3.65"/><circle cx="494.8" cy="221.8" r="3.65"/><circle cx="497.4" cy="221.9" r="3.65"/><circle cx="500.0" cy="221.9" r="3.65"/><circle cx="502.6" cy="222.3" r="3.65"/><circle cx="505.2" cy="222.6" r="3.65"/><circle cx="507.8" cy="223.0" r="3.65"/><circle cx="510.4" cy="223.4" r="3.65"/><circle cx="513.0" cy="223.7" r="3.65"/><circle cx="515.6" cy="224.1" r="3.65"/><circle cx="518.2" cy="224.4" r="3.65"/><circle cx="520.8" cy="224.8" r="3.65"/><circle cx="523.4" cy="224.8" r="3.65"/><circle cx="526.0" cy="224.6" r="3.65"/><circle cx="528.6" cy="224.4" r="3.65"/><circle cx="529.9" cy="224.3" r="3.65"/></g>
<g fill="none" stroke="#ff0000" stroke-width="1.3"><circle cx="611.2" cy="223.3" r="3.65"/><circle cx="613.8" cy="222.9" r="3.65"/><circle cx="616.4" cy="222.4" r="3.65"/><circle cx="619.0" cy="222.0" r="3.65"/><circle cx="621.6" cy="221.6" r="3.65"/><circle cx="624.2" cy="221.2" r="3.65"/><circle cx="626.8" cy="220.8" r="3.65"/><circle cx="629.4" cy="220.4" r="3.65"/><circle cx="632.0" cy="220.1" r="3.65"/><circle cx="634.6" cy="219.7" r="3.65"/><circle cx="637.2" cy="219.3" r="3.65"/><circle cx="639.8" cy="219.1" r="3.65"/><circle cx="642.4" cy="219.0" r="3.65"/><circle cx="645.0" cy="218.9" r="3.65"/><circle cx="647.6" cy="218.7" r="3.65"/><circle cx="650.2" cy="218.6" r="3.65"/><circle cx="652.8" cy="218.5" r="3.65"/><circle cx="655.4" cy="218.3" r="3.65"/><circle cx="658.0" cy="218.2" r="3.65"/><circle cx="660.6" cy="218.1" r="3.65"/><circle cx="663.2" cy="218.0" r="3.65"/><circle cx="665.8" cy="218.0" r="3.65"/><circle cx="668.4" cy="218.0" r="3.65"/><circle cx="671.0" cy="218.0" r="3.65"/><circle cx="673.6" cy="218.0" r="3.65"/><circle cx="676.2" cy="218.0" r="3.65"/><circle cx="678.8" cy="218.2" r="3.65"/><circle cx="681.4" cy="218.4" r="3.65"/><circle cx="684.0" cy="218.6" r="3.65"/><circle cx="686.6" cy="218.8" r="3.65"/><circle cx="689.2" cy="219.0" r="3.65"/><circle cx="691.8" cy="219.2" r="3.65"/><circle cx="694.4" cy="219.1" r="3.65"/><circle cx="697.0" cy="219.0" r="3.65"/><circle cx="699.6" cy="218.9" r="3.65"/><circle cx="702.2" cy="218.8" r="3.65"/><circle cx="704.8" cy="218.7" r="3.65"/><circle cx="707.4" cy="218.6" r="3.65"/><circle cx="710.0" cy="218.5" r="3.65"/><circle cx="712.6" cy="218.9" r="3.65"/><circle cx="715.2" cy="219.5" r="3.65"/><circle cx="717.8" cy="220.0" r="3.65"/><circle cx="720.4" cy="220.5" r="3.65"/><circle cx="723.0" cy="221.2" r="3.65"/><circle cx="725.0" cy="221.8" r="3.65"/></g>
<g fill="none" stroke="#ff0000" stroke-width="1.3"><circle cx="744.6" cy="226.0" r="3.65"/><circle cx="747.2" cy="225.3" r="3.65"/><circle cx="749.8" cy="224.6" r="3.65"/><circle cx="752.4" cy="223.8" r="3.65"/><circle cx="755.0" cy="223.1" r="3.65"/><circle cx="757.6" cy="222.5" r="3.65"/><circle cx="760.2" cy="222.0" r="3.65"/><circle cx="762.5" cy="221.6" r="3.65"/></g>
<g fill="#fff" fill-opacity="0.85" stroke="#ff0000" stroke-width="1.4"><circle cx="272.6" cy="221.6" r="4.6"/><circle cx="529.9" cy="224.3" r="4.6"/><circle cx="727.6" cy="222.8" r="3.7"/><circle cx="731.6" cy="223.4" r="3.7"/><circle cx="736.8" cy="224.3" r="3.8"/><circle cx="741.9" cy="226" r="3.9"/><circle cx="765.9" cy="221.1" r="4.3"/></g>
<g fill="none" stroke="#ff0000" stroke-width="1.3"><circle cx="344.2" cy="222.8" r="4.3"/><circle cx="345.0" cy="222.9" r="3.9"/><circle cx="611.0" cy="223.2" r="4.3"/><circle cx="611.9" cy="223.1" r="3.9"/></g>
</g>
<g clip-path="url(#cb)">
<path d="M137.7,298.9V307.3M133.2,298.9H142.2M133.2,307.3H142.2M138.8,291.5V299.9M134.3,291.5H143.3M134.3,299.9H143.3M140.0,289.6V298.0M135.5,289.6H144.5M135.5,298.0H144.5M141.2,287.9V296.3M136.7,287.9H145.7M136.7,296.3H145.7M142.3,288.1V296.5M137.8,288.1H146.8M137.8,296.5H146.8M143.5,288.3V296.7M139.0,288.3H148.0M139.0,296.7H148.0M144.6,288.5V296.9M140.1,288.5H149.1M140.1,296.9H149.1M145.8,288.7V297.1M141.3,288.7H150.3M141.3,297.1H150.3M146.9,288.9V297.3M142.4,288.9H151.4M142.4,297.3H151.4M148.1,289.1V297.5M143.6,289.1H152.6M143.6,297.5H152.6M149.2,289.4V297.8M144.7,289.4H153.7M144.7,297.8H153.7M150.4,289.7V298.1M145.9,289.7H154.9M145.9,298.1H154.9M151.5,290.0V298.4M147.0,290.0H156.0M147.0,298.4H156.0M152.7,290.2V298.6M148.2,290.2H157.2M148.2,298.6H157.2M153.8,290.5V298.9M149.3,290.5H158.3M149.3,298.9H158.3M155.0,290.8V299.2M150.5,290.8H159.5M150.5,299.2H159.5M156.1,291.1V299.5M151.6,291.1H160.6M151.6,299.5H160.6M157.3,291.0V299.4M152.8,291.0H161.8M152.8,299.4H161.8M158.4,290.7V299.1M153.9,290.7H162.9M153.9,299.1H162.9M159.6,290.4V298.8M155.1,290.4H164.1M155.1,298.8H164.1M160.7,290.1V298.5M156.2,290.1H165.2M156.2,298.5H165.2M161.9,289.9V298.3M157.4,289.9H166.4M157.4,298.3H166.4M163.0,289.6V298.0M158.5,289.6H167.5M158.5,298.0H167.5M164.2,289.3V297.7M159.7,289.3H168.7M159.7,297.7H168.7M165.3,289.0V297.4M160.8,289.0H169.8M160.8,297.4H169.8M166.5,289.4V297.8M162.0,289.4H171.0M162.0,297.8H171.0M167.6,289.9V298.3M163.1,289.9H172.1M163.1,298.3H172.1M168.8,290.3V298.7M164.3,290.3H173.3M164.3,298.7H173.3M169.9,290.7V299.1M165.4,290.7H174.4M165.4,299.1H174.4M171.1,291.2V299.6M166.6,291.2H175.6M166.6,299.6H175.6M172.2,291.6V300.0M167.7,291.6H176.7M167.7,300.0H176.7M173.4,292.0V300.4M168.9,292.0H177.9M168.9,300.4H177.9M174.5,292.6V301.0M170.0,292.6H179.0M170.0,301.0H179.0M175.7,293.3V301.7M171.2,293.3H180.2M171.2,301.7H180.2M176.8,294.0V302.4M172.3,294.0H181.3M172.3,302.4H181.3M178.0,294.7V303.1M173.5,294.7H182.5M173.5,303.1H182.5M179.1,295.4V303.8M174.6,295.4H183.6M174.6,303.8H183.6M180.3,296.1V304.5M175.8,296.1H184.8M175.8,304.5H184.8M181.4,296.9V305.3M176.9,296.9H185.9M176.9,305.3H185.9M182.6,297.6V306.0M178.1,297.6H187.1M178.1,306.0H187.1M183.7,297.8V306.2M179.2,297.8H188.2M179.2,306.2H188.2M184.9,297.8V306.2M180.4,297.8H189.4M180.4,306.2H189.4M186.0,297.8V306.2M181.5,297.8H190.5M181.5,306.2H190.5M187.2,297.8V306.2M182.7,297.8H191.7M182.7,306.2H191.7M188.3,297.8V306.2M183.8,297.8H192.8M183.8,306.2H192.8M189.5,297.8V306.2M185.0,297.8H194.0M185.0,306.2H194.0M190.6,297.8V306.2M186.1,297.8H195.1M186.1,306.2H195.1M191.8,297.8V306.2M187.3,297.8H196.3M187.3,306.2H196.3M192.9,297.8V306.2M188.4,297.8H197.4M188.4,306.2H197.4M194.1,297.8V306.2M189.6,297.8H198.6M189.6,306.2H198.6M195.2,298.1V306.5M190.7,298.1H199.7M190.7,306.5H199.7M196.4,298.4V306.8M191.9,298.4H200.9M191.9,306.8H200.9M197.5,298.7V307.1M193.0,298.7H202.0M193.0,307.1H202.0M198.7,299.0V307.4M194.2,299.0H203.2M194.2,307.4H203.2M199.8,299.3V307.7M195.3,299.3H204.3M195.3,307.7H204.3M201.0,299.5V307.9M196.5,299.5H205.5M196.5,307.9H205.5M202.1,299.8V308.2M197.6,299.8H206.6M197.6,308.2H206.6M203.3,300.6V309.0M198.8,300.6H207.8M198.8,309.0H207.8M204.4,302.1V310.5M199.9,302.1H208.9M199.9,310.5H208.9M205.6,303.7V312.1M201.1,303.7H210.1M201.1,312.1H210.1M206.7,305.2V313.6M202.2,305.2H211.2M202.2,313.6H211.2M207.9,306.7V315.1M203.4,306.7H212.4M203.4,315.1H212.4M209.0,308.3V316.7M204.5,308.3H213.5M204.5,316.7H213.5M210.2,309.7V318.1M205.7,309.7H214.7M205.7,318.1H214.7M211.3,311.0V319.4M206.8,311.0H215.8M206.8,319.4H215.8M212.5,312.3V320.7M208.0,312.3H217.0M208.0,320.7H217.0M213.6,313.6V322.0M209.1,313.6H218.1M209.1,322.0H218.1M214.8,314.9V323.3M210.3,314.9H219.3M210.3,323.3H219.3M215.9,316.2V324.6M211.4,316.2H220.4M211.4,324.6H220.4M217.1,317.5V325.9M212.6,317.5H221.6M212.6,325.9H221.6M218.2,317.8V326.2M213.7,317.8H222.7M213.7,326.2H222.7M219.4,317.9V326.3M214.9,317.9H223.9M214.9,326.3H223.9M220.5,318.1V326.5M216.0,318.1H225.0M216.0,326.5H225.0M221.7,318.3V326.7M217.2,318.3H226.2M217.2,326.7H226.2M222.8,318.4V326.8M218.3,318.4H227.3M218.3,326.8H227.3M224.0,318.6V327.0M219.5,318.6H228.5M219.5,327.0H228.5M225.1,319.0V327.4M220.6,319.0H229.6M220.6,327.4H229.6M226.3,320.0V328.4M221.8,320.0H230.8M221.8,328.4H230.8M227.4,321.0V329.4M222.9,321.0H231.9M222.9,329.4H231.9M228.6,322.0V330.4M224.1,322.0H233.1M224.1,330.4H233.1M229.7,323.0V331.4M225.2,323.0H234.2M225.2,331.4H234.2M230.9,324.0V332.4M226.4,324.0H235.4M226.4,332.4H235.4M232.0,325.0V333.4M227.5,325.0H236.5M227.5,333.4H236.5M233.2,326.0V334.4M228.7,326.0H237.7M228.7,334.4H237.7M234.3,327.4V335.8M229.8,327.4H238.8M229.8,335.8H238.8M235.5,328.9V337.3M231.0,328.9H240.0M231.0,337.3H240.0M236.6,330.5V338.9M232.1,330.5H241.1M232.1,338.9H241.1M237.8,332.1V340.5M233.3,332.1H242.3M233.3,340.5H242.3M238.9,333.7V342.1M234.4,333.7H243.4M234.4,342.1H243.4M240.1,335.2V343.6M235.6,335.2H244.6M235.6,343.6H244.6M241.2,336.8V345.2M236.7,336.8H245.7M236.7,345.2H245.7M242.4,338.4V346.8M237.9,338.4H246.9M237.9,346.8H246.9M243.5,340.0V348.4M239.0,340.0H248.0M239.0,348.4H248.0M244.7,341.6V350.0M240.2,341.6H249.2M240.2,350.0H249.2M245.8,343.1V351.5M241.3,343.1H250.3M241.3,351.5H250.3M247.0,344.7V353.1M242.5,344.7H251.5M242.5,353.1H251.5M248.1,346.3V354.7M243.6,346.3H252.6M243.6,354.7H252.6M249.3,347.9V356.3M244.8,347.9H253.8M244.8,356.3H253.8M250.4,349.5V357.9M245.9,349.5H254.9M245.9,357.9H254.9M251.6,351.0V359.4M247.1,351.0H256.1M247.1,359.4H256.1M252.7,352.6V361.0M248.2,352.6H257.2M248.2,361.0H257.2M253.9,354.2V362.6M249.4,354.2H258.4M249.4,362.6H258.4M255.0,355.8V364.2M250.5,355.8H259.5M250.5,364.2H259.5M256.2,357.4V365.8M251.7,357.4H260.7M251.7,365.8H260.7M257.3,359.0V367.4M252.8,359.0H261.8M252.8,367.4H261.8M258.5,360.5V368.9M254.0,360.5H263.0M254.0,368.9H263.0M259.6,362.1V370.5M255.1,362.1H264.1M255.1,370.5H264.1M260.8,363.5V371.9M256.3,363.5H265.3M256.3,371.9H265.3M261.9,364.8V373.2M257.4,364.8H266.4M257.4,373.2H266.4M263.1,366.1V374.5M258.6,366.1H267.6M258.6,374.5H267.6M264.2,367.4V375.8M259.7,367.4H268.7M259.7,375.8H268.7M265.4,368.7V377.1M260.9,368.7H269.9M260.9,377.1H269.9M266.5,370.0V378.4M262.0,370.0H271.0M262.0,378.4H271.0M267.7,371.3V379.7M263.2,371.3H272.2M263.2,379.7H272.2M268.8,372.6V381.0M264.3,372.6H273.3M264.3,381.0H273.3M270.0,373.6V382.0M265.5,373.6H274.5M265.5,382.0H274.5M271.1,374.6V383.0M266.6,374.6H275.6M266.6,383.0H275.6M272.3,375.5V383.9M267.8,375.5H276.8M267.8,383.9H276.8M273.4,376.5V384.9M268.9,376.5H277.9M268.9,384.9H277.9M274.6,377.5V385.9M270.1,377.5H279.1M270.1,385.9H279.1M275.5,378.3V386.7M271.0,378.3H280.0M271.0,386.7H280.0M277.0,382.8V391.2M272.5,382.8H281.5M272.5,391.2H281.5M277.6,389.0V397.4M273.1,389.0H282.1M273.1,397.4H282.1M278.0,401.2V409.6M273.5,401.2H282.5M273.5,409.6H282.5" fill="none" stroke="#008000" stroke-width="0.9" stroke-opacity="0.85"/>
<path d="M133.2,300.2H142.2L137.7,306.8ZM134.3,292.8H143.3L138.8,299.4ZM135.5,290.9H144.5L140.0,297.5ZM136.7,289.2H145.7L141.2,295.8ZM137.8,289.4H146.8L142.3,296.0ZM139.0,289.6H148.0L143.5,296.2ZM140.1,289.8H149.1L144.6,296.4ZM141.3,290.0H150.3L145.8,296.6ZM142.4,290.2H151.4L146.9,296.8ZM143.6,290.4H152.6L148.1,297.0ZM144.7,290.7H153.7L149.2,297.3ZM145.9,291.0H154.9L150.4,297.6ZM147.0,291.3H156.0L151.5,297.9ZM148.2,291.5H157.2L152.7,298.1ZM149.3,291.8H158.3L153.8,298.4ZM150.5,292.1H159.5L155.0,298.7ZM151.6,292.4H160.6L156.1,299.0ZM152.8,292.3H161.8L157.3,298.9ZM153.9,292.0H162.9L158.4,298.6ZM155.1,291.7H164.1L159.6,298.3ZM156.2,291.4H165.2L160.7,298.0ZM157.4,291.2H166.4L161.9,297.8ZM158.5,290.9H167.5L163.0,297.5ZM159.7,290.6H168.7L164.2,297.2ZM160.8,290.3H169.8L165.3,296.9ZM162.0,290.7H171.0L166.5,297.3ZM163.1,291.2H172.1L167.6,297.8ZM164.3,291.6H173.3L168.8,298.2ZM165.4,292.0H174.4L169.9,298.6ZM166.6,292.5H175.6L171.1,299.1ZM167.7,292.9H176.7L172.2,299.5ZM168.9,293.3H177.9L173.4,299.9ZM170.0,293.9H179.0L174.5,300.5ZM171.2,294.6H180.2L175.7,301.2ZM172.3,295.3H181.3L176.8,301.9ZM173.5,296.0H182.5L178.0,302.6ZM174.6,296.7H183.6L179.1,303.3ZM175.8,297.4H184.8L180.3,304.0ZM176.9,298.2H185.9L181.4,304.8ZM178.1,298.9H187.1L182.6,305.5ZM179.2,299.1H188.2L183.7,305.7ZM180.4,299.1H189.4L184.9,305.7ZM181.5,299.1H190.5L186.0,305.7ZM182.7,299.1H191.7L187.2,305.7ZM183.8,299.1H192.8L188.3,305.7ZM185.0,299.1H194.0L189.5,305.7ZM186.1,299.1H195.1L190.6,305.7ZM187.3,299.1H196.3L191.8,305.7ZM188.4,299.1H197.4L192.9,305.7ZM189.6,299.1H198.6L194.1,305.7ZM190.7,299.4H199.7L195.2,306.0ZM191.9,299.7H200.9L196.4,306.3ZM193.0,300.0H202.0L197.5,306.6ZM194.2,300.3H203.2L198.7,306.9ZM195.3,300.6H204.3L199.8,307.2ZM196.5,300.8H205.5L201.0,307.4ZM197.6,301.1H206.6L202.1,307.7ZM198.8,301.9H207.8L203.3,308.5ZM199.9,303.4H208.9L204.4,310.0ZM201.1,305.0H210.1L205.6,311.6ZM202.2,306.5H211.2L206.7,313.1ZM203.4,308.0H212.4L207.9,314.6ZM204.5,309.6H213.5L209.0,316.2ZM205.7,311.0H214.7L210.2,317.6ZM206.8,312.3H215.8L211.3,318.9ZM208.0,313.6H217.0L212.5,320.2ZM209.1,314.9H218.1L213.6,321.5ZM210.3,316.2H219.3L214.8,322.8ZM211.4,317.5H220.4L215.9,324.1ZM212.6,318.8H221.6L217.1,325.4ZM213.7,319.1H222.7L218.2,325.7ZM214.9,319.2H223.9L219.4,325.8ZM216.0,319.4H225.0L220.5,326.0ZM217.2,319.6H226.2L221.7,326.2ZM218.3,319.7H227.3L222.8,326.3ZM219.5,319.9H228.5L224.0,326.5ZM220.6,320.3H229.6L225.1,326.9ZM221.8,321.3H230.8L226.3,327.9ZM222.9,322.3H231.9L227.4,328.9ZM224.1,323.3H233.1L228.6,329.9ZM225.2,324.3H234.2L229.7,330.9ZM226.4,325.3H235.4L230.9,331.9ZM227.5,326.3H236.5L232.0,332.9ZM228.7,327.3H237.7L233.2,333.9ZM229.8,328.7H238.8L234.3,335.3ZM231.0,330.2H240.0L235.5,336.8ZM232.1,331.8H241.1L236.6,338.4ZM233.3,333.4H242.3L237.8,340.0ZM234.4,335.0H243.4L238.9,341.6ZM235.6,336.5H244.6L240.1,343.1ZM236.7,338.1H245.7L241.2,344.7ZM237.9,339.7H246.9L242.4,346.3ZM239.0,341.3H248.0L243.5,347.9ZM240.2,342.9H249.2L244.7,349.5ZM241.3,344.4H250.3L245.8,351.0ZM242.5,346.0H251.5L247.0,352.6ZM243.6,347.6H252.6L248.1,354.2ZM244.8,349.2H253.8L249.3,355.8ZM245.9,350.8H254.9L250.4,357.4ZM247.1,352.3H256.1L251.6,358.9ZM248.2,353.9H257.2L252.7,360.5ZM249.4,355.5H258.4L253.9,362.1ZM250.5,357.1H259.5L255.0,363.7ZM251.7,358.7H260.7L256.2,365.3ZM252.8,360.3H261.8L257.3,366.9ZM254.0,361.8H263.0L258.5,368.4ZM255.1,363.4H264.1L259.6,370.0ZM256.3,364.8H265.3L260.8,371.4ZM257.4,366.1H266.4L261.9,372.7ZM258.6,367.4H267.6L263.1,374.0ZM259.7,368.7H268.7L264.2,375.3ZM260.9,370.0H269.9L265.4,376.6ZM262.0,371.3H271.0L266.5,377.9ZM263.2,372.6H272.2L267.7,379.2ZM264.3,373.9H273.3L268.8,380.5ZM265.5,374.9H274.5L270.0,381.5ZM266.6,375.9H275.6L271.1,382.5ZM267.8,376.8H276.8L272.3,383.4ZM268.9,377.8H277.9L273.4,384.4ZM270.1,378.8H279.1L274.6,385.4ZM271.0,379.6H280.0L275.5,386.2ZM272.5,384.1H281.5L277.0,390.7ZM273.1,390.3H282.1L277.6,396.9ZM273.5,402.5H282.5L278.0,409.1Z" fill="none" stroke="#008000" stroke-width="1.15" stroke-linejoin="miter"/>
<path d="M342.2,289.7V298.1M337.7,289.7H346.7M337.7,298.1H346.7M343.3,286.2V294.6M338.8,286.2H347.8M338.8,294.6H347.8M344.5,282.7V291.1M340.0,282.7H349.0M340.0,291.1H349.0M345.6,281.9V290.3M341.1,281.9H350.1M341.1,290.3H350.1M346.8,281.3V289.7M342.3,281.3H351.3M342.3,289.7H351.3M347.9,280.7V289.1M343.4,280.7H352.4M343.4,289.1H352.4M349.1,280.2V288.6M344.6,280.2H353.6M344.6,288.6H353.6M350.2,279.6V288.0M345.7,279.6H354.7M345.7,288.0H354.7M351.4,279.6V288.0M346.9,279.6H355.9M346.9,288.0H355.9M352.5,279.6V288.0M348.0,279.6H357.0M348.0,288.0H357.0M353.7,279.7V288.1M349.2,279.7H358.2M349.2,288.1H358.2M354.8,279.8V288.2M350.3,279.8H359.3M350.3,288.2H359.3M356.0,279.9V288.3M351.5,279.9H360.5M351.5,288.3H360.5M357.1,280.0V288.4M352.6,280.0H361.6M352.6,288.4H361.6M358.3,280.0V288.4M353.8,280.0H362.8M353.8,288.4H362.8M359.4,280.3V288.7M354.9,280.3H363.9M354.9,288.7H363.9M360.6,281.2V289.6M356.1,281.2H365.1M356.1,289.6H365.1M361.7,282.1V290.5M357.2,282.1H366.2M357.2,290.5H366.2M362.9,282.9V291.3M358.4,282.9H367.4M358.4,291.3H367.4M364.0,283.8V292.2M359.5,283.8H368.5M359.5,292.2H368.5M365.2,284.7V293.1M360.7,284.7H369.7M360.7,293.1H369.7M366.3,285.6V294.0M361.8,285.6H370.8M361.8,294.0H370.8M367.5,286.5V294.9M363.0,286.5H372.0M363.0,294.9H372.0M368.6,287.5V295.9M364.1,287.5H373.1M364.1,295.9H373.1M369.8,288.7V297.1M365.3,288.7H374.3M365.3,297.1H374.3M370.9,289.8V298.2M366.4,289.8H375.4M366.4,298.2H375.4M372.1,291.0V299.4M367.6,291.0H376.6M367.6,299.4H376.6M373.2,292.1V300.5M368.7,292.1H377.7M368.7,300.5H377.7M374.4,293.3V301.7M369.9,293.3H378.9M369.9,301.7H378.9M375.5,294.4V302.8M371.0,294.4H380.0M371.0,302.8H380.0M376.7,295.6V304.0M372.2,295.6H381.2M372.2,304.0H381.2M377.8,296.7V305.1M373.3,296.7H382.3M373.3,305.1H382.3M379.0,297.9V306.3M374.5,297.9H383.5M374.5,306.3H383.5M380.1,299.0V307.4M375.6,299.0H384.6M375.6,307.4H384.6M381.3,299.6V308.0M376.8,299.6H385.8M376.8,308.0H385.8M382.4,298.2V306.6M377.9,298.2H386.9M377.9,306.6H386.9M383.6,296.9V305.3M379.1,296.9H388.1M379.1,305.3H388.1M384.7,295.6V304.0M380.2,295.6H389.2M380.2,304.0H389.2M385.9,294.2V302.6M381.4,294.2H390.4M381.4,302.6H390.4M387.0,292.9V301.3M382.5,292.9H391.5M382.5,301.3H391.5M388.2,291.6V300.0M383.7,291.6H392.7M383.7,300.0H392.7M389.3,290.2V298.6M384.8,290.2H393.8M384.8,298.6H393.8M390.5,289.0V297.4M386.0,289.0H395.0M386.0,297.4H395.0M391.6,288.0V296.4M387.1,288.0H396.1M387.1,296.4H396.1M392.8,286.9V295.3M388.3,286.9H397.3M388.3,295.3H397.3M393.9,285.8V294.2M389.4,285.8H398.4M389.4,294.2H398.4M395.1,284.8V293.2M390.6,284.8H399.6M390.6,293.2H399.6M396.2,283.7V292.1M391.7,283.7H400.7M391.7,292.1H400.7M397.4,282.6V291.0M392.9,282.6H401.9M392.9,291.0H401.9M398.5,281.6V290.0M394.0,281.6H403.0M394.0,290.0H403.0M399.7,282.0V290.4M395.2,282.0H404.2M395.2,290.4H404.2M400.8,282.3V290.7M396.3,282.3H405.3M396.3,290.7H405.3M402.0,282.7V291.1M397.5,282.7H406.5M397.5,291.1H406.5M403.1,283.1V291.5M398.6,283.1H407.6M398.6,291.5H407.6M404.3,283.4V291.8M399.8,283.4H408.8M399.8,291.8H408.8M405.4,283.8V292.2M400.9,283.8H409.9M400.9,292.2H409.9M406.6,285.0V293.4M402.1,285.0H411.1M402.1,293.4H411.1M407.7,286.5V294.9M403.2,286.5H412.2M403.2,294.9H412.2M408.9,288.1V296.5M404.4,288.1H413.4M404.4,296.5H413.4M410.0,289.6V298.0M405.5,289.6H414.5M405.5,298.0H414.5M411.2,291.2V299.6M406.7,291.2H415.7M406.7,299.6H415.7M412.3,292.7V301.1M407.8,292.7H416.8M407.8,301.1H416.8M413.5,294.3V302.7M409.0,294.3H418.0M409.0,302.7H418.0M414.6,295.7V304.1M410.1,295.7H419.1M410.1,304.1H419.1M415.8,296.6V305.0M411.3,296.6H420.3M411.3,305.0H420.3M416.9,297.5V305.9M412.4,297.5H421.4M412.4,305.9H421.4M418.1,298.3V306.7M413.6,298.3H422.6M413.6,306.7H422.6M419.2,299.2V307.6M414.7,299.2H423.7M414.7,307.6H423.7M420.4,300.1V308.5M415.9,300.1H424.9M415.9,308.5H424.9M421.5,301.0V309.4M417.0,301.0H426.0M417.0,309.4H426.0M422.7,301.8V310.2M418.2,301.8H427.2M418.2,310.2H427.2M423.8,302.2V310.6M419.3,302.2H428.3M419.3,310.6H428.3M425.0,302.0V310.4M420.5,302.0H429.5M420.5,310.4H429.5M426.1,301.8V310.2M421.6,301.8H430.6M421.6,310.2H430.6M427.3,301.6V310.0M422.8,301.6H431.8M422.8,310.0H431.8M428.4,301.5V309.9M423.9,301.5H432.9M423.9,309.9H432.9M429.6,301.3V309.7M425.1,301.3H434.1M425.1,309.7H434.1M430.7,301.1V309.5M426.2,301.1H435.2M426.2,309.5H435.2M431.9,300.9V309.3M427.4,300.9H436.4M427.4,309.3H436.4M433.0,300.7V309.1M428.5,300.7H437.5M428.5,309.1H437.5M434.2,300.5V308.9M429.7,300.5H438.7M429.7,308.9H438.7M435.3,300.3V308.7M430.8,300.3H439.8M430.8,308.7H439.8M436.5,300.1V308.5M432.0,300.1H441.0M432.0,308.5H441.0M437.6,299.9V308.3M433.1,299.9H442.1M433.1,308.3H442.1M438.8,299.9V308.3M434.3,299.9H443.3M434.3,308.3H443.3M439.9,300.0V308.4M435.4,300.0H444.4M435.4,308.4H444.4M441.1,300.0V308.4M436.6,300.0H445.6M436.6,308.4H445.6M442.2,300.1V308.5M437.7,300.1H446.7M437.7,308.5H446.7M443.4,300.1V308.5M438.9,300.1H447.9M438.9,308.5H447.9M444.5,300.2V308.6M440.0,300.2H449.0M440.0,308.6H449.0M445.7,300.2V308.6M441.2,300.2H450.2M441.2,308.6H450.2M446.8,300.3V308.7M442.3,300.3H451.3M442.3,308.7H451.3M448.0,300.3V308.7M443.5,300.3H452.5M443.5,308.7H452.5M449.1,300.4V308.8M444.6,300.4H453.6M444.6,308.8H453.6M450.3,300.4V308.8M445.8,300.4H454.8M445.8,308.8H454.8M451.4,300.5V308.9M446.9,300.5H455.9M446.9,308.9H455.9M452.6,300.6V309.0M448.1,300.6H457.1M448.1,309.0H457.1M453.7,300.9V309.3M449.2,300.9H458.2M449.2,309.3H458.2M454.9,301.2V309.6M450.4,301.2H459.4M450.4,309.6H459.4M456.0,301.4V309.8M451.5,301.4H460.5M451.5,309.8H460.5M457.2,301.7V310.1M452.7,301.7H461.7M452.7,310.1H461.7M458.3,302.0V310.4M453.8,302.0H462.8M453.8,310.4H462.8M459.5,302.3V310.7M455.0,302.3H464.0M455.0,310.7H464.0M460.6,302.6V311.0M456.1,302.6H465.1M456.1,311.0H465.1M461.8,302.9V311.3M457.3,302.9H466.3M457.3,311.3H466.3M462.9,303.2V311.6M458.4,303.2H467.4M458.4,311.6H467.4M464.1,303.5V311.9M459.6,303.5H468.6M459.6,311.9H468.6M465.2,303.8V312.2M460.7,303.8H469.7M460.7,312.2H469.7M466.4,304.1V312.5M461.9,304.1H470.9M461.9,312.5H470.9M467.5,304.4V312.8M463.0,304.4H472.0M463.0,312.8H472.0M468.7,304.6V313.0M464.2,304.6H473.2M464.2,313.0H473.2M469.8,304.9V313.3M465.3,304.9H474.3M465.3,313.3H474.3M471.0,305.1V313.5M466.5,305.1H475.5M466.5,313.5H475.5M472.1,305.3V313.7M467.6,305.3H476.6M467.6,313.7H476.6M473.3,305.6V314.0M468.8,305.6H477.8M468.8,314.0H477.8M474.4,305.8V314.2M469.9,305.8H478.9M469.9,314.2H478.9M475.6,306.0V314.4M471.1,306.0H480.1M471.1,314.4H480.1M476.7,306.2V314.6M472.2,306.2H481.2M472.2,314.6H481.2M477.9,306.5V314.9M473.4,306.5H482.4M473.4,314.9H482.4M479.0,306.7V315.1M474.5,306.7H483.5M474.5,315.1H483.5M480.2,306.9V315.3M475.7,306.9H484.7M475.7,315.3H484.7M481.3,307.2V315.6M476.8,307.2H485.8M476.8,315.6H485.8M482.5,308.0V316.4M478.0,308.0H487.0M478.0,316.4H487.0M483.6,309.0V317.4M479.1,309.0H488.1M479.1,317.4H488.1M484.8,310.0V318.4M480.3,310.0H489.3M480.3,318.4H489.3M485.9,311.0V319.4M481.4,311.0H490.4M481.4,319.4H490.4M487.1,312.0V320.4M482.6,312.0H491.6M482.6,320.4H491.6M488.2,313.0V321.4M483.7,313.0H492.7M483.7,321.4H492.7M489.4,314.0V322.4M484.9,314.0H493.9M484.9,322.4H493.9M490.5,315.0V323.4M486.0,315.0H495.0M486.0,323.4H495.0M491.7,316.0V324.4M487.2,316.0H496.2M487.2,324.4H496.2M492.8,317.0V325.4M488.3,317.0H497.3M488.3,325.4H497.3M494.0,317.9V326.3M489.5,317.9H498.5M489.5,326.3H498.5M495.1,318.8V327.2M490.6,318.8H499.6M490.6,327.2H499.6M496.3,319.7V328.1M491.8,319.7H500.8M491.8,328.1H500.8M497.4,320.5V328.9M492.9,320.5H501.9M492.9,328.9H501.9M498.6,321.4V329.8M494.1,321.4H503.1M494.1,329.8H503.1M499.7,322.3V330.7M495.2,322.3H504.2M495.2,330.7H504.2M500.9,323.2V331.6M496.4,323.2H505.4M496.4,331.6H505.4M502.0,324.0V332.4M497.5,324.0H506.5M497.5,332.4H506.5M503.2,324.9V333.3M498.7,324.9H507.7M498.7,333.3H507.7M504.3,325.8V334.2M499.8,325.8H508.8M499.8,334.2H508.8M505.5,326.5V334.9M501.0,326.5H510.0M501.0,334.9H510.0M506.6,327.1V335.5M502.1,327.1H511.1M502.1,335.5H511.1M507.8,327.6V336.0M503.3,327.6H512.3M503.3,336.0H512.3M508.9,328.2V336.6M504.4,328.2H513.4M504.4,336.6H513.4M510.1,328.8V337.2M505.6,328.8H514.6M505.6,337.2H514.6M511.2,329.4V337.8M506.7,329.4H515.7M506.7,337.8H515.7M512.4,329.9V338.3M507.9,329.9H516.9M507.9,338.3H516.9M513.5,330.5V338.9M509.0,330.5H518.0M509.0,338.9H518.0M514.7,331.9V340.3M510.2,331.9H519.2M510.2,340.3H519.2M515.8,333.4V341.8M511.3,333.4H520.3M511.3,341.8H520.3M517.0,334.9V343.3M512.5,334.9H521.5M512.5,343.3H521.5M518.1,336.5V344.9M513.6,336.5H522.6M513.6,344.9H522.6M519.3,338.0V346.4M514.8,338.0H523.8M514.8,346.4H523.8M520.4,339.7V348.1M515.9,339.7H524.9M515.9,348.1H524.9M521.6,342.5V350.9M517.1,342.5H526.1M517.1,350.9H526.1M522.7,345.3V353.7M518.2,345.3H527.2M518.2,353.7H527.2M523.9,348.1V356.5M519.4,348.1H528.4M519.4,356.5H528.4M525.0,350.9V359.3M520.5,350.9H529.5M520.5,359.3H529.5M526.2,354.2V362.6M521.7,354.2H530.7M521.7,362.6H530.7M527.3,357.5V365.9M522.8,357.5H531.8M522.8,365.9H531.8M528.5,360.9V369.3M524.0,360.9H533.0M524.0,369.3H533.0M529.6,364.3V372.7M525.1,364.3H534.1M525.1,372.7H534.1M530.8,368.5V376.9M526.3,368.5H535.3M526.3,376.9H535.3M531.9,372.7V381.1M527.4,372.7H536.4M527.4,381.1H536.4M533.1,376.9V385.3M528.6,376.9H537.6M528.6,385.3H537.6M534.2,381.8V390.2M529.7,381.8H538.7M529.7,390.2H538.7M535.4,387.4V395.8M530.9,387.4H539.9M530.9,395.8H539.9M536.5,392.8V401.2M532.0,392.8H541.0M532.0,401.2H541.0" fill="none" stroke="#008000" stroke-width="0.9" stroke-opacity="0.85"/>
<path d="M337.7,291.0H346.7L342.2,297.6ZM338.8,287.5H347.8L343.3,294.1ZM340.0,284.0H349.0L344.5,290.6ZM341.1,283.2H350.1L345.6,289.8ZM342.3,282.6H351.3L346.8,289.2ZM343.4,282.0H352.4L347.9,288.6ZM344.6,281.5H353.6L349.1,288.1ZM345.7,280.9H354.7L350.2,287.5ZM346.9,280.9H355.9L351.4,287.5ZM348.0,280.9H357.0L352.5,287.5ZM349.2,281.0H358.2L353.7,287.6ZM350.3,281.1H359.3L354.8,287.7ZM351.5,281.2H360.5L356.0,287.8ZM352.6,281.3H361.6L357.1,287.9ZM353.8,281.3H362.8L358.3,287.9ZM354.9,281.6H363.9L359.4,288.2ZM356.1,282.5H365.1L360.6,289.1ZM357.2,283.4H366.2L361.7,290.0ZM358.4,284.2H367.4L362.9,290.8ZM359.5,285.1H368.5L364.0,291.7ZM360.7,286.0H369.7L365.2,292.6ZM361.8,286.9H370.8L366.3,293.5ZM363.0,287.8H372.0L367.5,294.4ZM364.1,288.8H373.1L368.6,295.4ZM365.3,290.0H374.3L369.8,296.6ZM366.4,291.1H375.4L370.9,297.7ZM367.6,292.3H376.6L372.1,298.9ZM368.7,293.4H377.7L373.2,300.0ZM369.9,294.6H378.9L374.4,301.2ZM371.0,295.7H380.0L375.5,302.3ZM372.2,296.9H381.2L376.7,303.5ZM373.3,298.0H382.3L377.8,304.6ZM374.5,299.2H383.5L379.0,305.8ZM375.6,300.3H384.6L380.1,306.9ZM376.8,300.9H385.8L381.3,307.5ZM377.9,299.5H386.9L382.4,306.1ZM379.1,298.2H388.1L383.6,304.8ZM380.2,296.9H389.2L384.7,303.5ZM381.4,295.5H390.4L385.9,302.1ZM382.5,294.2H391.5L387.0,300.8ZM383.7,292.9H392.7L388.2,299.5ZM384.8,291.5H393.8L389.3,298.1ZM386.0,290.3H395.0L390.5,296.9ZM387.1,289.3H396.1L391.6,295.9ZM388.3,288.2H397.3L392.8,294.8ZM389.4,287.1H398.4L393.9,293.7ZM390.6,286.1H399.6L395.1,292.7ZM391.7,285.0H400.7L396.2,291.6ZM392.9,283.9H401.9L397.4,290.5ZM394.0,282.9H403.0L398.5,289.5ZM395.2,283.3H404.2L399.7,289.9ZM396.3,283.6H405.3L400.8,290.2ZM397.5,284.0H406.5L402.0,290.6ZM398.6,284.4H407.6L403.1,291.0ZM399.8,284.7H408.8L404.3,291.3ZM400.9,285.1H409.9L405.4,291.7ZM402.1,286.3H411.1L406.6,292.9ZM403.2,287.8H412.2L407.7,294.4ZM404.4,289.4H413.4L408.9,296.0ZM405.5,290.9H414.5L410.0,297.5ZM406.7,292.5H415.7L411.2,299.1ZM407.8,294.0H416.8L412.3,300.6ZM409.0,295.6H418.0L413.5,302.2ZM410.1,297.0H419.1L414.6,303.6ZM411.3,297.9H420.3L415.8,304.5ZM412.4,298.8H421.4L416.9,305.4ZM413.6,299.6H422.6L418.1,306.2ZM414.7,300.5H423.7L419.2,307.1ZM415.9,301.4H424.9L420.4,308.0ZM417.0,302.3H426.0L421.5,308.9ZM418.2,303.1H427.2L422.7,309.7ZM419.3,303.5H428.3L423.8,310.1ZM420.5,303.3H429.5L425.0,309.9ZM421.6,303.1H430.6L426.1,309.7ZM422.8,302.9H431.8L427.3,309.5ZM423.9,302.8H432.9L428.4,309.4ZM425.1,302.6H434.1L429.6,309.2ZM426.2,302.4H435.2L430.7,309.0ZM427.4,302.2H436.4L431.9,308.8ZM428.5,302.0H437.5L433.0,308.6ZM429.7,301.8H438.7L434.2,308.4ZM430.8,301.6H439.8L435.3,308.2ZM432.0,301.4H441.0L436.5,308.0ZM433.1,301.2H442.1L437.6,307.8ZM434.3,301.2H443.3L438.8,307.8ZM435.4,301.3H444.4L439.9,307.9ZM436.6,301.3H445.6L441.1,307.9ZM437.7,301.4H446.7L442.2,308.0ZM438.9,301.4H447.9L443.4,308.0ZM440.0,301.5H449.0L444.5,308.1ZM441.2,301.5H450.2L445.7,308.1ZM442.3,301.6H451.3L446.8,308.2ZM443.5,301.6H452.5L448.0,308.2ZM444.6,301.7H453.6L449.1,308.3ZM445.8,301.7H454.8L450.3,308.3ZM446.9,301.8H455.9L451.4,308.4ZM448.1,301.9H457.1L452.6,308.5ZM449.2,302.2H458.2L453.7,308.8ZM450.4,302.5H459.4L454.9,309.1ZM451.5,302.7H460.5L456.0,309.3ZM452.7,303.0H461.7L457.2,309.6ZM453.8,303.3H462.8L458.3,309.9ZM455.0,303.6H464.0L459.5,310.2ZM456.1,303.9H465.1L460.6,310.5ZM457.3,304.2H466.3L461.8,310.8ZM458.4,304.5H467.4L462.9,311.1ZM459.6,304.8H468.6L464.1,311.4ZM460.7,305.1H469.7L465.2,311.7ZM461.9,305.4H470.9L466.4,312.0ZM463.0,305.7H472.0L467.5,312.3ZM464.2,305.9H473.2L468.7,312.5ZM465.3,306.2H474.3L469.8,312.8ZM466.5,306.4H475.5L471.0,313.0ZM467.6,306.6H476.6L472.1,313.2ZM468.8,306.9H477.8L473.3,313.5ZM469.9,307.1H478.9L474.4,313.7ZM471.1,307.3H480.1L475.6,313.9ZM472.2,307.5H481.2L476.7,314.1ZM473.4,307.8H482.4L477.9,314.4ZM474.5,308.0H483.5L479.0,314.6ZM475.7,308.2H484.7L480.2,314.8ZM476.8,308.5H485.8L481.3,315.1ZM478.0,309.3H487.0L482.5,315.9ZM479.1,310.3H488.1L483.6,316.9ZM480.3,311.3H489.3L484.8,317.9ZM481.4,312.3H490.4L485.9,318.9ZM482.6,313.3H491.6L487.1,319.9ZM483.7,314.3H492.7L488.2,320.9ZM484.9,315.3H493.9L489.4,321.9ZM486.0,316.3H495.0L490.5,322.9ZM487.2,317.3H496.2L491.7,323.9ZM488.3,318.3H497.3L492.8,324.9ZM489.5,319.2H498.5L494.0,325.8ZM490.6,320.1H499.6L495.1,326.7ZM491.8,321.0H500.8L496.3,327.6ZM492.9,321.8H501.9L497.4,328.4ZM494.1,322.7H503.1L498.6,329.3ZM495.2,323.6H504.2L499.7,330.2ZM496.4,324.5H505.4L500.9,331.1ZM497.5,325.3H506.5L502.0,331.9ZM498.7,326.2H507.7L503.2,332.8ZM499.8,327.1H508.8L504.3,333.7ZM501.0,327.8H510.0L505.5,334.4ZM502.1,328.4H511.1L506.6,335.0ZM503.3,328.9H512.3L507.8,335.5ZM504.4,329.5H513.4L508.9,336.1ZM505.6,330.1H514.6L510.1,336.7ZM506.7,330.7H515.7L511.2,337.3ZM507.9,331.2H516.9L512.4,337.8ZM509.0,331.8H518.0L513.5,338.4ZM510.2,333.2H519.2L514.7,339.8ZM511.3,334.7H520.3L515.8,341.3ZM512.5,336.2H521.5L517.0,342.8ZM513.6,337.8H522.6L518.1,344.4ZM514.8,339.3H523.8L519.3,345.9ZM515.9,341.0H524.9L520.4,347.6ZM517.1,343.8H526.1L521.6,350.4ZM518.2,346.6H527.2L522.7,353.2ZM519.4,349.4H528.4L523.9,356.0ZM520.5,352.2H529.5L525.0,358.8ZM521.7,355.5H530.7L526.2,362.1ZM522.8,358.8H531.8L527.3,365.4ZM524.0,362.2H533.0L528.5,368.8ZM525.1,365.6H534.1L529.6,372.2ZM526.3,369.8H535.3L530.8,376.4ZM527.4,374.0H536.4L531.9,380.6ZM528.6,378.2H537.6L533.1,384.8ZM529.7,383.1H538.7L534.2,389.7ZM530.9,388.7H539.9L535.4,395.3ZM532.0,394.1H541.0L536.5,400.7Z" fill="none" stroke="#008000" stroke-width="1.15" stroke-linejoin="miter"/>
<path d="M604.4,331.3V339.7M599.9,331.3H608.9M599.9,339.7H608.9M605.5,327.9V336.3M601.0,327.9H610.0M601.0,336.3H610.0M606.7,324.4V332.8M602.2,324.4H611.2M602.2,332.8H611.2M607.8,321.2V329.6M603.3,321.2H612.3M603.3,329.6H612.3M609.0,318.1V326.5M604.5,318.1H613.5M604.5,326.5H613.5M610.1,315.0V323.4M605.6,315.0H614.6M605.6,323.4H614.6M611.3,312.4V320.8M606.8,312.4H615.8M606.8,320.8H615.8M612.4,310.7V319.1M607.9,310.7H616.9M607.9,319.1H616.9M613.6,309.0V317.4M609.1,309.0H618.1M609.1,317.4H618.1M614.7,307.3V315.7M610.2,307.3H619.2M610.2,315.7H619.2M615.9,305.6V314.0M611.4,305.6H620.4M611.4,314.0H620.4M617.0,304.9V313.3M612.5,304.9H621.5M612.5,313.3H621.5M618.2,304.5V312.9M613.7,304.5H622.7M613.7,312.9H622.7M619.3,304.1V312.5M614.8,304.1H623.8M614.8,312.5H623.8M620.5,303.7V312.1M616.0,303.7H625.0M616.0,312.1H625.0M621.6,303.3V311.7M617.1,303.3H626.1M617.1,311.7H626.1M622.8,302.9V311.3M618.3,302.9H627.3M618.3,311.3H627.3M623.9,302.5V310.9M619.4,302.5H628.4M619.4,310.9H628.4M625.1,302.9V311.3M620.6,302.9H629.6M620.6,311.3H629.6M626.2,303.3V311.7M621.7,303.3H630.7M621.7,311.7H630.7M627.4,303.7V312.1M622.9,303.7H631.9M622.9,312.1H631.9M628.5,304.1V312.5M624.0,304.1H633.0M624.0,312.5H633.0M629.7,304.4V312.8M625.2,304.4H634.2M625.2,312.8H634.2M630.8,304.8V313.2M626.3,304.8H635.3M626.3,313.2H635.3M632.0,305.3V313.7M627.5,305.3H636.5M627.5,313.7H636.5M633.1,306.4V314.8M628.6,306.4H637.6M628.6,314.8H637.6M634.3,307.6V316.0M629.8,307.6H638.8M629.8,316.0H638.8M635.4,308.7V317.1M630.9,308.7H639.9M630.9,317.1H639.9M636.6,309.9V318.3M632.1,309.9H641.1M632.1,318.3H641.1M637.7,311.0V319.4M633.2,311.0H642.2M633.2,319.4H642.2M638.9,312.2V320.6M634.4,312.2H643.4M634.4,320.6H643.4M640.0,313.0V321.4M635.5,313.0H644.5M635.5,321.4H644.5M641.2,312.8V321.2M636.7,312.8H645.7M636.7,321.2H645.7M642.3,312.7V321.1M637.8,312.7H646.8M637.8,321.1H646.8M643.5,312.5V320.9M639.0,312.5H648.0M639.0,320.9H648.0M644.6,312.4V320.8M640.1,312.4H649.1M640.1,320.8H649.1M645.8,312.3V320.7M641.3,312.3H650.3M641.3,320.7H650.3M646.9,311.7V320.1M642.4,311.7H651.4M642.4,320.1H651.4M648.1,310.8V319.2M643.6,310.8H652.6M643.6,319.2H652.6M649.2,309.9V318.3M644.7,309.9H653.7M644.7,318.3H653.7M650.4,309.0V317.4M645.9,309.0H654.9M645.9,317.4H654.9M651.5,308.2V316.6M647.0,308.2H656.0M647.0,316.6H656.0M652.7,307.3V315.7M648.2,307.3H657.2M648.2,315.7H657.2M653.8,306.4V314.8M649.3,306.4H658.3M649.3,314.8H658.3M655.0,305.5V313.9M650.5,305.5H659.5M650.5,313.9H659.5M656.1,305.1V313.5M651.6,305.1H660.6M651.6,313.5H660.6M657.3,304.9V313.3M652.8,304.9H661.8M652.8,313.3H661.8M658.4,304.6V313.0M653.9,304.6H662.9M653.9,313.0H662.9M659.6,304.4V312.8M655.1,304.4H664.1M655.1,312.8H664.1M660.7,304.2V312.6M656.2,304.2H665.2M656.2,312.6H665.2M661.9,304.0V312.4M657.4,304.0H666.4M657.4,312.4H666.4M663.0,303.8V312.2M658.5,303.8H667.5M658.5,312.2H667.5M664.2,303.6V312.0M659.7,303.6H668.7M659.7,312.0H668.7M665.3,303.4V311.8M660.8,303.4H669.8M660.8,311.8H669.8M666.5,303.5V311.9M662.0,303.5H671.0M662.0,311.9H671.0M667.6,304.0V312.4M663.1,304.0H672.1M663.1,312.4H672.1M668.8,304.5V312.9M664.3,304.5H673.3M664.3,312.9H673.3M669.9,305.0V313.4M665.4,305.0H674.4M665.4,313.4H674.4M671.1,305.4V313.8M666.6,305.4H675.6M666.6,313.8H675.6M672.2,305.9V314.3M667.7,305.9H676.7M667.7,314.3H676.7M673.4,306.4V314.8M668.9,306.4H677.9M668.9,314.8H677.9M674.5,306.9V315.3M670.0,306.9H679.0M670.0,315.3H679.0M675.7,307.5V315.9M671.2,307.5H680.2M671.2,315.9H680.2M676.8,308.1V316.5M672.3,308.1H681.3M672.3,316.5H681.3M678.0,308.6V317.0M673.5,308.6H682.5M673.5,317.0H682.5M679.1,309.2V317.6M674.6,309.2H683.6M674.6,317.6H683.6M680.3,309.8V318.2M675.8,309.8H684.8M675.8,318.2H684.8M681.4,310.3V318.7M676.9,310.3H685.9M676.9,318.7H685.9M682.6,309.8V318.2M678.1,309.8H687.1M678.1,318.2H687.1M683.7,309.2V317.6M679.2,309.2H688.2M679.2,317.6H688.2M684.9,308.5V316.9M680.4,308.5H689.4M680.4,316.9H689.4M686.0,307.9V316.3M681.5,307.9H690.5M681.5,316.3H690.5M687.2,307.2V315.6M682.7,307.2H691.7M682.7,315.6H691.7M688.3,306.6V315.0M683.8,306.6H692.8M683.8,315.0H692.8M689.5,305.9V314.3M685.0,305.9H694.0M685.0,314.3H694.0M690.6,305.3V313.7M686.1,305.3H695.1M686.1,313.7H695.1M691.8,304.8V313.2M687.3,304.8H696.3M687.3,313.2H696.3M692.9,304.4V312.8M688.4,304.4H697.4M688.4,312.8H697.4M694.1,304.0V312.4M689.6,304.0H698.6M689.6,312.4H698.6M695.2,303.5V311.9M690.7,303.5H699.7M690.7,311.9H699.7M696.4,303.1V311.5M691.9,303.1H700.9M691.9,311.5H700.9M697.5,302.7V311.1M693.0,302.7H702.0M693.0,311.1H702.0M698.7,302.2V310.6M694.2,302.2H703.2M694.2,310.6H703.2M699.8,301.8V310.2M695.3,301.8H704.3M695.3,310.2H704.3M701.0,302.5V310.9M696.5,302.5H705.5M696.5,310.9H705.5M702.1,303.1V311.5M697.6,303.1H706.6M697.6,311.5H706.6M703.3,303.8V312.2M698.8,303.8H707.8M698.8,312.2H707.8M704.4,304.5V312.9M699.9,304.5H708.9M699.9,312.9H708.9M705.6,305.2V313.6M701.1,305.2H710.1M701.1,313.6H710.1M706.7,305.9V314.3M702.2,305.9H711.2M702.2,314.3H711.2M707.9,306.5V314.9M703.4,306.5H712.4M703.4,314.9H712.4M709.0,307.0V315.4M704.5,307.0H713.5M704.5,315.4H713.5M710.2,307.4V315.8M705.7,307.4H714.7M705.7,315.8H714.7M711.3,307.8V316.2M706.8,307.8H715.8M706.8,316.2H715.8M712.5,308.3V316.7M708.0,308.3H717.0M708.0,316.7H717.0M713.6,308.7V317.1M709.1,308.7H718.1M709.1,317.1H718.1M714.8,309.1V317.5M710.3,309.1H719.3M710.3,317.5H719.3M715.9,309.6V318.0M711.4,309.6H720.4M711.4,318.0H720.4M717.1,310.0V318.4M712.6,310.0H721.6M712.6,318.4H721.6M718.2,310.4V318.8M713.7,310.4H722.7M713.7,318.8H722.7M719.4,310.7V319.1M714.9,310.7H723.9M714.9,319.1H723.9M720.5,311.0V319.4M716.0,311.0H725.0M716.0,319.4H725.0M721.7,311.3V319.7M717.2,311.3H726.2M717.2,319.7H726.2M722.8,311.6V320.0M718.3,311.6H727.3M718.3,320.0H727.3M724.0,311.8V320.2M719.5,311.8H728.5M719.5,320.2H728.5M725.1,312.1V320.5M720.6,312.1H729.6M720.6,320.5H729.6M726.3,312.4V320.8M721.8,312.4H730.8M721.8,320.8H730.8M727.4,312.7V321.1M722.9,312.7H731.9M722.9,321.1H731.9M728.6,313.0V321.4M724.1,313.0H733.1M724.1,321.4H733.1M729.7,313.5V321.9M725.2,313.5H734.2M725.2,321.9H734.2M730.9,314.0V322.4M726.4,314.0H735.4M726.4,322.4H735.4M732.0,314.5V322.9M727.5,314.5H736.5M727.5,322.9H736.5M733.2,315.1V323.5M728.7,315.1H737.7M728.7,323.5H737.7M734.3,315.6V324.0M729.8,315.6H738.8M729.8,324.0H738.8M735.5,316.1V324.5M731.0,316.1H740.0M731.0,324.5H740.0M736.6,316.6V325.0M732.1,316.6H741.1M732.1,325.0H741.1M737.8,317.2V325.6M733.3,317.2H742.3M733.3,325.6H742.3M738.9,317.7V326.1M734.4,317.7H743.4M734.4,326.1H743.4M740.1,318.2V326.6M735.6,318.2H744.6M735.6,326.6H744.6M741.2,318.7V327.1M736.7,318.7H745.7M736.7,327.1H745.7M742.4,318.6V327.0M737.9,318.6H746.9M737.9,327.0H746.9M743.5,317.9V326.3M739.0,317.9H748.0M739.0,326.3H748.0M744.7,317.3V325.7M740.2,317.3H749.2M740.2,325.7H749.2M745.8,316.6V325.0M741.3,316.6H750.3M741.3,325.0H750.3M747.0,315.9V324.3M742.5,315.9H751.5M742.5,324.3H751.5M748.1,315.2V323.6M743.6,315.2H752.6M743.6,323.6H752.6M749.3,314.5V322.9M744.8,314.5H753.8M744.8,322.9H753.8M750.4,314.7V323.1M745.9,314.7H754.9M745.9,323.1H754.9M751.6,315.3V323.7M747.1,315.3H756.1M747.1,323.7H756.1M752.7,315.9V324.3M748.2,315.9H757.2M748.2,324.3H757.2M753.9,316.4V324.8M749.4,316.4H758.4M749.4,324.8H758.4M755.0,317.0V325.4M750.5,317.0H759.5M750.5,325.4H759.5M756.2,317.6V326.0M751.7,317.6H760.7M751.7,326.0H760.7M757.3,318.1V326.5M752.8,318.1H761.8M752.8,326.5H761.8M758.5,320.0V328.4M754.0,320.0H763.0M754.0,328.4H763.0M759.6,322.0V330.4M755.1,322.0H764.1M755.1,330.4H764.1M760.8,324.0V332.4M756.3,324.0H765.3M756.3,332.4H765.3M761.9,326.1V334.5M757.4,326.1H766.4M757.4,334.5H766.4M763.1,328.4V336.8M758.6,328.4H767.6M758.6,336.8H767.6M764.2,331.2V339.6M759.7,331.2H768.7M759.7,339.6H768.7M765.4,334.1V342.5M760.9,334.1H769.9M760.9,342.5H769.9M766.5,336.9V345.3M762.0,336.9H771.0M762.0,345.3H771.0M767.7,339.8V348.2M763.2,339.8H772.2M763.2,348.2H772.2M768.8,342.6V351.0M764.3,342.6H773.3M764.3,351.0H773.3M770.0,345.5V353.9M765.5,345.5H774.5M765.5,353.9H774.5M770.6,347.0V355.4M766.1,347.0H775.1M766.1,355.4H775.1" fill="none" stroke="#008000" stroke-width="0.9" stroke-opacity="0.85"/>
<path d="M599.9,332.6H608.9L604.4,339.2ZM601.0,329.2H610.0L605.5,335.8ZM602.2,325.7H611.2L606.7,332.3ZM603.3,322.5H612.3L607.8,329.1ZM604.5,319.4H613.5L609.0,326.0ZM605.6,316.3H614.6L610.1,322.9ZM606.8,313.7H615.8L611.3,320.3ZM607.9,312.0H616.9L612.4,318.6ZM609.1,310.3H618.1L613.6,316.9ZM610.2,308.6H619.2L614.7,315.2ZM611.4,306.9H620.4L615.9,313.5ZM612.5,306.2H621.5L617.0,312.8ZM613.7,305.8H622.7L618.2,312.4ZM614.8,305.4H623.8L619.3,312.0ZM616.0,305.0H625.0L620.5,311.6ZM617.1,304.6H626.1L621.6,311.2ZM618.3,304.2H627.3L622.8,310.8ZM619.4,303.8H628.4L623.9,310.4ZM620.6,304.2H629.6L625.1,310.8ZM621.7,304.6H630.7L626.2,311.2ZM622.9,305.0H631.9L627.4,311.6ZM624.0,305.4H633.0L628.5,312.0ZM625.2,305.7H634.2L629.7,312.3ZM626.3,306.1H635.3L630.8,312.7ZM627.5,306.6H636.5L632.0,313.2ZM628.6,307.7H637.6L633.1,314.3ZM629.8,308.9H638.8L634.3,315.5ZM630.9,310.0H639.9L635.4,316.6ZM632.1,311.2H641.1L636.6,317.8ZM633.2,312.3H642.2L637.7,318.9ZM634.4,313.5H643.4L638.9,320.1ZM635.5,314.3H644.5L640.0,320.9ZM636.7,314.1H645.7L641.2,320.7ZM637.8,314.0H646.8L642.3,320.6ZM639.0,313.8H648.0L643.5,320.4ZM640.1,313.7H649.1L644.6,320.3ZM641.3,313.6H650.3L645.8,320.2ZM642.4,313.0H651.4L646.9,319.6ZM643.6,312.1H652.6L648.1,318.7ZM644.7,311.2H653.7L649.2,317.8ZM645.9,310.3H654.9L650.4,316.9ZM647.0,309.5H656.0L651.5,316.1ZM648.2,308.6H657.2L652.7,315.2ZM649.3,307.7H658.3L653.8,314.3ZM650.5,306.8H659.5L655.0,313.4ZM651.6,306.4H660.6L656.1,313.0ZM652.8,306.2H661.8L657.3,312.8ZM653.9,305.9H662.9L658.4,312.5ZM655.1,305.7H664.1L659.6,312.3ZM656.2,305.5H665.2L660.7,312.1ZM657.4,305.3H666.4L661.9,311.9ZM658.5,305.1H667.5L663.0,311.7ZM659.7,304.9H668.7L664.2,311.5ZM660.8,304.7H669.8L665.3,311.3ZM662.0,304.8H671.0L666.5,311.4ZM663.1,305.3H672.1L667.6,311.9ZM664.3,305.8H673.3L668.8,312.4ZM665.4,306.3H674.4L669.9,312.9ZM666.6,306.7H675.6L671.1,313.3ZM667.7,307.2H676.7L672.2,313.8ZM668.9,307.7H677.9L673.4,314.3ZM670.0,308.2H679.0L674.5,314.8ZM671.2,308.8H680.2L675.7,315.4ZM672.3,309.4H681.3L676.8,316.0ZM673.5,309.9H682.5L678.0,316.5ZM674.6,310.5H683.6L679.1,317.1ZM675.8,311.1H684.8L680.3,317.7ZM676.9,311.6H685.9L681.4,318.2ZM678.1,311.1H687.1L682.6,317.7ZM679.2,310.5H688.2L683.7,317.1ZM680.4,309.8H689.4L684.9,316.4ZM681.5,309.2H690.5L686.0,315.8ZM682.7,308.5H691.7L687.2,315.1ZM683.8,307.9H692.8L688.3,314.5ZM685.0,307.2H694.0L689.5,313.8ZM686.1,306.6H695.1L690.6,313.2ZM687.3,306.1H696.3L691.8,312.7ZM688.4,305.7H697.4L692.9,312.3ZM689.6,305.3H698.6L694.1,311.9ZM690.7,304.8H699.7L695.2,311.4ZM691.9,304.4H700.9L696.4,311.0ZM693.0,304.0H702.0L697.5,310.6ZM694.2,303.5H703.2L698.7,310.1ZM695.3,303.1H704.3L699.8,309.7ZM696.5,303.8H705.5L701.0,310.4ZM697.6,304.4H706.6L702.1,311.0ZM698.8,305.1H707.8L703.3,311.7ZM699.9,305.8H708.9L704.4,312.4ZM701.1,306.5H710.1L705.6,313.1ZM702.2,307.2H711.2L706.7,313.8ZM703.4,307.8H712.4L707.9,314.4ZM704.5,308.3H713.5L709.0,314.9ZM705.7,308.7H714.7L710.2,315.3ZM706.8,309.1H715.8L711.3,315.7ZM708.0,309.6H717.0L712.5,316.2ZM709.1,310.0H718.1L713.6,316.6ZM710.3,310.4H719.3L714.8,317.0ZM711.4,310.9H720.4L715.9,317.5ZM712.6,311.3H721.6L717.1,317.9ZM713.7,311.7H722.7L718.2,318.3ZM714.9,312.0H723.9L719.4,318.6ZM716.0,312.3H725.0L720.5,318.9ZM717.2,312.6H726.2L721.7,319.2ZM718.3,312.9H727.3L722.8,319.5ZM719.5,313.1H728.5L724.0,319.7ZM720.6,313.4H729.6L725.1,320.0ZM721.8,313.7H730.8L726.3,320.3ZM722.9,314.0H731.9L727.4,320.6ZM724.1,314.3H733.1L728.6,320.9ZM725.2,314.8H734.2L729.7,321.4ZM726.4,315.3H735.4L730.9,321.9ZM727.5,315.8H736.5L732.0,322.4ZM728.7,316.4H737.7L733.2,323.0ZM729.8,316.9H738.8L734.3,323.5ZM731.0,317.4H740.0L735.5,324.0ZM732.1,317.9H741.1L736.6,324.5ZM733.3,318.5H742.3L737.8,325.1ZM734.4,319.0H743.4L738.9,325.6ZM735.6,319.5H744.6L740.1,326.1ZM736.7,320.0H745.7L741.2,326.6ZM737.9,319.9H746.9L742.4,326.5ZM739.0,319.2H748.0L743.5,325.8ZM740.2,318.6H749.2L744.7,325.2ZM741.3,317.9H750.3L745.8,324.5ZM742.5,317.2H751.5L747.0,323.8ZM743.6,316.5H752.6L748.1,323.1ZM744.8,315.8H753.8L749.3,322.4ZM745.9,316.0H754.9L750.4,322.6ZM747.1,316.6H756.1L751.6,323.2ZM748.2,317.2H757.2L752.7,323.8ZM749.4,317.7H758.4L753.9,324.3ZM750.5,318.3H759.5L755.0,324.9ZM751.7,318.9H760.7L756.2,325.5ZM752.8,319.4H761.8L757.3,326.0ZM754.0,321.3H763.0L758.5,327.9ZM755.1,323.3H764.1L759.6,329.9ZM756.3,325.3H765.3L760.8,331.9ZM757.4,327.4H766.4L761.9,334.0ZM758.6,329.7H767.6L763.1,336.3ZM759.7,332.5H768.7L764.2,339.1ZM760.9,335.4H769.9L765.4,342.0ZM762.0,338.2H771.0L766.5,344.8ZM763.2,341.1H772.2L767.7,347.7ZM764.3,343.9H773.3L768.8,350.5ZM765.5,346.8H774.5L770.0,353.4ZM766.1,348.3H775.1L770.6,354.9Z" fill="none" stroke="#008000" stroke-width="1.15" stroke-linejoin="miter"/>
</g>
<g clip-path="url(#cc)">
<line x1="138.4" y1="588" x2="138.4" y2="628.3" stroke="#ff0000" stroke-opacity="0.6" stroke-width="0.95"/>
<line x1="166.8" y1="588" x2="166.8" y2="628.3" stroke="#ff0000" stroke-opacity="0.6" stroke-width="0.95"/>
<line x1="349.0" y1="588" x2="349.0" y2="628.3" stroke="#ff0000" stroke-opacity="0.6" stroke-width="0.95"/>
<line x1="396.4" y1="588" x2="396.4" y2="628.3" stroke="#ff0000" stroke-opacity="0.6" stroke-width="0.95"/>
<line x1="413.4" y1="588" x2="413.4" y2="628.3" stroke="#ff0000" stroke-opacity="0.6" stroke-width="0.95"/>
<line x1="625.2" y1="588" x2="625.2" y2="628.3" stroke="#ff0000" stroke-opacity="0.6" stroke-width="0.95"/>
<line x1="629.3" y1="588" x2="629.3" y2="628.3" stroke="#ff0000" stroke-opacity="0.6" stroke-width="0.95"/>
<line x1="634.0" y1="588" x2="634.0" y2="628.3" stroke="#ff0000" stroke-opacity="0.6" stroke-width="0.95"/>
<line x1="735.1" y1="588" x2="735.1" y2="628.3" stroke="#ff0000" stroke-opacity="0.6" stroke-width="0.95"/>
<line x1="755.8" y1="588" x2="755.8" y2="628.3" stroke="#ff0000" stroke-opacity="0.6" stroke-width="0.95"/>
<path d="M132.5,589L138.4,579.4L144.3,589Z" fill="#ff0000"/>
<path d="M160.9,589L166.8,579.4L172.7,589Z" fill="#ff0000"/>
<path d="M343.1,589L349.0,579.4L354.9,589Z" fill="#ff0000"/>
<path d="M390.5,589L396.4,579.4L402.3,589Z" fill="#ff0000"/>
<path d="M407.5,589L413.4,579.4L419.3,589Z" fill="#ff0000"/>
<path d="M619.3,589L625.2,579.4L631.1,589Z" fill="#ff0000"/>
<path d="M623.4,589L629.3,579.4L635.2,589Z" fill="#ff0000"/>
<path d="M628.1,589L634.0,579.4L639.9,589Z" fill="#ff0000"/>
<path d="M729.2,589L735.1,579.4L741.0,589Z" fill="#ff0000"/>
<path d="M749.9,589L755.8,579.4L761.7,589Z" fill="#ff0000"/>
<path d="M133.3,600.1C133.6,597.8 134.4,591.8 135.0,586.2C135.6,580.6 136.3,573.1 137.0,566.6C137.7,560.1 138.2,553.6 138.9,547.1C139.6,540.6 140.4,533.6 141.2,527.6C142.0,521.6 143.0,516.0 143.9,510.9C144.8,505.8 145.7,501.3 146.7,496.9C147.7,492.5 148.9,488.3 150.1,484.4C151.3,480.4 152.4,476.9 153.7,473.2C155.0,469.5 156.7,465.4 157.9,462.1C159.2,458.9 160.2,456.3 161.2,453.7C162.2,451.1 163.1,448.4 164.0,446.7C164.9,445.0 165.7,444.0 166.8,443.4C167.9,442.8 169.1,442.5 170.4,442.8C171.7,443.1 173.0,444.3 174.6,445.3C176.2,446.3 178.1,448.1 180.2,449.0C182.3,449.9 184.9,450.7 187.2,450.9C189.5,451.1 191.5,450.5 194.1,450.1C196.7,449.7 199.2,449.0 202.5,448.7C205.8,448.4 211.4,448.6 213.7,448.4C216.0,448.2 215.2,447.6 216.4,447.6C217.6,447.7 219.0,448.8 220.6,448.7C222.2,448.6 224.8,447.1 226.2,447.0C227.6,446.9 227.4,448.0 229.0,448.4C230.6,448.8 233.9,448.9 236.0,449.5C238.1,450.1 239.7,451.1 241.5,452.3C243.3,453.5 245.2,455.2 247.1,456.5C249.0,457.8 251.1,459.2 252.7,460.1C254.3,461.0 255.7,460.9 256.9,462.1C258.1,463.4 258.6,465.3 259.7,467.6C260.8,469.9 262.1,472.7 263.3,476.0C264.6,479.3 266.2,483.9 267.2,487.2C268.2,490.4 268.6,492.2 269.4,495.5C270.2,498.8 271.2,502.8 272.2,506.7C273.2,510.6 274.7,515.0 275.6,519.2C276.5,523.4 277.1,527.1 277.8,531.8C278.5,536.4 279.2,542.0 280.0,547.1C280.8,552.2 281.8,557.9 282.8,562.5C283.8,567.1 284.9,571.0 286.2,575.0C287.4,579.0 288.9,583.0 290.3,586.2C291.7,589.5 293.1,592.3 294.5,594.5C295.9,596.7 297.3,597.6 298.7,599.5C300.1,601.4 301.3,603.7 302.9,605.7C304.5,607.7 306.9,610.3 308.5,611.3C310.1,612.3 311.3,611.3 312.7,611.8C314.1,612.2 315.5,613.2 316.8,614.0C318.1,614.8 319.6,616.8 320.5,616.3C321.4,615.8 321.8,610.7 322.4,610.7C323.0,610.7 323.7,615.1 324.4,616.3C325.1,617.5 325.5,617.7 326.6,617.7C327.7,617.7 329.5,617.0 330.8,616.3C332.1,615.6 333.5,614.9 334.6,613.4C335.7,611.9 336.4,610.6 337.2,607.5C338.0,604.4 338.5,600.4 339.2,594.5C339.9,588.6 340.6,580.1 341.2,572.2C341.8,564.3 342.2,555.5 342.8,547.1C343.4,538.7 343.9,529.2 344.5,522.0C345.1,514.8 345.6,508.5 346.2,503.9C346.8,499.2 347.3,496.4 348.1,494.1C348.9,491.8 349.7,490.8 350.9,490.0C352.1,489.2 353.7,489.2 355.1,489.4C356.5,489.6 357.9,490.9 359.3,491.3C360.7,491.7 362.1,491.0 363.5,491.9C364.9,492.8 366.2,495.0 367.6,496.9C369.0,498.8 370.4,500.5 371.8,503.1C373.2,505.7 374.7,508.4 376.0,512.3C377.3,516.1 378.5,521.6 379.6,526.2C380.7,530.9 381.6,537.1 382.4,540.2C383.2,543.3 383.8,544.9 384.4,544.9C385.0,544.9 385.6,543.3 386.3,540.2C387.0,537.1 387.8,531.1 388.6,526.2C389.4,521.3 390.3,515.5 391.3,510.9C392.3,506.2 393.5,502.0 394.7,498.3C395.9,494.6 397.1,491.6 398.3,488.6C399.5,485.6 400.8,483.5 401.9,480.2C403.0,476.9 403.9,472.1 404.7,469.0C405.5,465.9 405.6,464.2 406.5,461.6C407.4,459.0 408.8,455.6 410.1,453.6C411.4,451.6 413.0,450.4 414.5,449.5C416.0,448.6 417.4,448.3 419.0,448.3C420.6,448.3 422.4,448.7 424.3,449.5C426.2,450.3 428.4,452.0 430.5,453.3C432.6,454.6 435.1,456.7 436.7,457.2C438.3,457.7 439.0,456.4 440.2,456.3C441.4,456.2 442.6,456.5 443.8,456.6C445.0,456.8 446.1,457.2 447.3,457.2C448.5,457.2 449.7,456.5 450.9,456.6C452.1,456.7 453.3,457.6 454.4,457.7C455.5,457.8 456.5,456.8 457.5,457.0C458.5,457.2 459.5,458.2 460.6,459.0C461.7,459.8 463.0,461.1 464.2,461.6C465.4,462.1 466.5,462.0 467.7,462.1C468.9,462.2 470.1,461.6 471.3,462.0C472.5,462.4 473.6,463.7 474.8,464.3C476.0,464.9 477.2,465.3 478.4,465.5C479.6,465.7 480.7,465.5 481.9,465.7C483.1,465.9 484.3,466.6 485.5,466.9C486.7,467.2 487.8,467.4 489.0,467.5C490.2,467.6 491.4,467.3 492.6,467.8C493.8,468.3 495.1,469.7 496.1,470.5C497.1,471.3 497.9,472.1 498.8,472.6C499.7,473.1 500.5,472.9 501.5,473.7C502.5,474.5 503.7,476.2 505.0,477.6C506.3,479.0 507.9,480.5 509.4,482.0C510.9,483.5 512.6,484.9 513.9,486.5C515.2,488.1 516.4,489.9 517.4,491.8C518.4,493.7 519.3,495.8 520.1,498.0C520.9,500.2 521.5,503.5 522.4,505.1C523.3,506.7 524.5,506.2 525.4,507.7C526.3,509.2 527.2,512.1 527.7,514.0C528.2,515.9 527.9,516.5 528.5,519.2C529.1,521.9 530.4,526.2 531.3,530.4C532.2,534.6 533.2,540.3 534.1,544.3C535.0,548.2 536.1,550.4 536.9,554.1C537.7,557.8 538.3,562.5 539.1,566.5C539.9,570.5 540.7,574.4 541.5,578.0C542.3,581.6 543.0,585.3 544.0,588.0C545.0,590.7 546.0,591.7 547.6,594.3C549.2,596.9 551.7,600.6 553.7,603.4C555.7,606.2 557.9,609.1 559.8,611.0C561.7,612.9 563.6,614.0 564.9,614.9C566.2,615.8 566.7,616.5 567.4,616.5C568.1,616.5 568.5,614.9 569.2,614.9C570.0,614.9 570.7,616.2 571.9,616.2C573.1,616.2 574.7,615.7 576.5,614.6C578.3,613.5 580.6,611.9 582.6,609.5C584.6,607.1 586.7,604.1 588.7,600.3C590.7,596.5 592.8,592.0 594.8,586.7C596.8,581.4 599.0,574.5 600.8,568.4C602.6,562.3 604.0,557.1 605.4,550.2C606.8,543.4 608.2,534.7 609.4,527.3C610.6,519.9 611.4,512.6 612.4,506.0C613.4,499.4 614.4,492.6 615.4,487.8C616.4,483.0 617.4,479.7 618.5,477.1C619.6,474.5 620.7,473.3 622.1,472.0C623.5,470.7 624.9,470.2 626.7,469.5C628.5,468.8 630.5,468.1 632.8,468.0C635.1,467.9 638.1,468.5 640.4,468.9C642.7,469.3 644.5,469.3 646.5,470.2C648.5,471.1 650.2,473.1 652.5,474.1C654.8,475.2 657.7,475.7 660.2,476.5C662.8,477.3 665.3,478.5 667.8,478.7C670.3,478.9 672.9,478.0 675.4,477.8C677.9,477.6 680.7,477.5 683.0,477.5C685.3,477.5 687.0,477.4 689.0,477.8C691.0,478.2 693.1,479.5 695.1,479.6C697.1,479.8 699.2,478.4 701.2,478.7C703.2,478.9 705.3,480.0 707.3,481.1C709.3,482.2 711.4,483.9 713.4,485.4C715.4,486.9 717.5,488.5 719.5,490.2C721.5,491.9 723.8,493.7 725.6,495.4C727.4,497.1 728.7,498.9 730.1,500.6C731.5,502.3 733.1,504.3 734.1,505.4C735.1,506.5 735.5,507.1 736.2,507.0C737.0,506.9 737.8,506.2 738.6,504.5C739.4,502.8 739.9,499.9 740.8,496.9C741.7,493.9 742.8,489.2 743.8,486.3C744.8,483.4 745.8,481.0 746.8,479.3C747.8,477.6 748.9,476.7 749.9,476.2C750.9,475.7 751.8,475.9 752.9,476.5C754.0,477.1 755.3,478.2 756.6,479.6C757.9,481.0 759.1,482.9 760.5,484.8C761.9,486.7 763.7,488.7 765.1,490.8C766.5,492.9 767.7,495.0 768.7,497.5C769.7,500.0 770.8,504.6 771.2,506.0" fill="none" stroke="#000" stroke-width="1.9" stroke-linejoin="round"/>
</g>
<rect x="133.0" y="11.9" width="638.6" height="616.4" fill="none" stroke="#000" stroke-width="2.4"/>
<line x1="133.00" y1="232.10" x2="771.60" y2="232.10" stroke="#000" stroke-width="2.4"/>
<line x1="133.00" y1="430.70" x2="771.60" y2="430.70" stroke="#000" stroke-width="2.4"/>
<line x1="171.93" y1="11.90" x2="171.93" y2="17.30" stroke="#000" stroke-width="2.0"/>
<line x1="171.93" y1="226.70" x2="171.93" y2="237.50" stroke="#000" stroke-width="2.0"/>
<line x1="171.93" y1="425.30" x2="171.93" y2="436.10" stroke="#000" stroke-width="2.0"/>
<line x1="171.93" y1="622.90" x2="171.93" y2="628.30" stroke="#000" stroke-width="2.0"/>
<line x1="210.85" y1="11.90" x2="210.85" y2="21.50" stroke="#000" stroke-width="2.0"/>
<line x1="210.85" y1="222.50" x2="210.85" y2="241.70" stroke="#000" stroke-width="2.0"/>
<line x1="210.85" y1="421.10" x2="210.85" y2="440.30" stroke="#000" stroke-width="2.0"/>
<line x1="210.85" y1="622.90" x2="210.85" y2="628.30" stroke="#000" stroke-width="2.0"/>
<line x1="249.78" y1="11.90" x2="249.78" y2="17.30" stroke="#000" stroke-width="2.0"/>
<line x1="249.78" y1="226.70" x2="249.78" y2="237.50" stroke="#000" stroke-width="2.0"/>
<line x1="249.78" y1="425.30" x2="249.78" y2="436.10" stroke="#000" stroke-width="2.0"/>
<line x1="249.78" y1="622.90" x2="249.78" y2="628.30" stroke="#000" stroke-width="2.0"/>
<line x1="288.70" y1="11.90" x2="288.70" y2="21.50" stroke="#000" stroke-width="2.0"/>
<line x1="288.70" y1="222.50" x2="288.70" y2="241.70" stroke="#000" stroke-width="2.0"/>
<line x1="288.70" y1="421.10" x2="288.70" y2="440.30" stroke="#000" stroke-width="2.0"/>
<line x1="288.70" y1="618.70" x2="288.70" y2="628.30" stroke="#000" stroke-width="2.0"/>
<line x1="327.62" y1="11.90" x2="327.62" y2="17.30" stroke="#000" stroke-width="2.0"/>
<line x1="327.62" y1="226.70" x2="327.62" y2="237.50" stroke="#000" stroke-width="2.0"/>
<line x1="327.62" y1="425.30" x2="327.62" y2="436.10" stroke="#000" stroke-width="2.0"/>
<line x1="327.62" y1="622.90" x2="327.62" y2="628.30" stroke="#000" stroke-width="2.0"/>
<line x1="366.55" y1="11.90" x2="366.55" y2="21.50" stroke="#000" stroke-width="2.0"/>
<line x1="366.55" y1="222.50" x2="366.55" y2="241.70" stroke="#000" stroke-width="2.0"/>
<line x1="366.55" y1="421.10" x2="366.55" y2="440.30" stroke="#000" stroke-width="2.0"/>
<line x1="366.55" y1="622.90" x2="366.55" y2="628.30" stroke="#000" stroke-width="2.0"/>
<line x1="405.47" y1="11.90" x2="405.47" y2="17.30" stroke="#000" stroke-width="2.0"/>
<line x1="405.47" y1="226.70" x2="405.47" y2="237.50" stroke="#000" stroke-width="2.0"/>
<line x1="405.47" y1="425.30" x2="405.47" y2="436.10" stroke="#000" stroke-width="2.0"/>
<line x1="405.47" y1="622.90" x2="405.47" y2="628.30" stroke="#000" stroke-width="2.0"/>
<line x1="444.40" y1="11.90" x2="444.40" y2="21.50" stroke="#000" stroke-width="2.0"/>
<line x1="444.40" y1="222.50" x2="444.40" y2="241.70" stroke="#000" stroke-width="2.0"/>
<line x1="444.40" y1="421.10" x2="444.40" y2="440.30" stroke="#000" stroke-width="2.0"/>
<line x1="444.40" y1="618.70" x2="444.40" y2="628.30" stroke="#000" stroke-width="2.0"/>
<line x1="483.33" y1="11.90" x2="483.33" y2="17.30" stroke="#000" stroke-width="2.0"/>
<line x1="483.33" y1="226.70" x2="483.33" y2="237.50" stroke="#000" stroke-width="2.0"/>
<line x1="483.33" y1="425.30" x2="483.33" y2="436.10" stroke="#000" stroke-width="2.0"/>
<line x1="483.33" y1="622.90" x2="483.33" y2="628.30" stroke="#000" stroke-width="2.0"/>
<line x1="522.25" y1="11.90" x2="522.25" y2="21.50" stroke="#000" stroke-width="2.0"/>
<line x1="522.25" y1="222.50" x2="522.25" y2="241.70" stroke="#000" stroke-width="2.0"/>
<line x1="522.25" y1="421.10" x2="522.25" y2="440.30" stroke="#000" stroke-width="2.0"/>
<line x1="522.25" y1="622.90" x2="522.25" y2="628.30" stroke="#000" stroke-width="2.0"/>
<line x1="561.17" y1="11.90" x2="561.17" y2="17.30" stroke="#000" stroke-width="2.0"/>
<line x1="561.17" y1="226.70" x2="561.17" y2="237.50" stroke="#000" stroke-width="2.0"/>
<line x1="561.17" y1="425.30" x2="561.17" y2="436.10" stroke="#000" stroke-width="2.0"/>
<line x1="561.17" y1="622.90" x2="561.17" y2="628.30" stroke="#000" stroke-width="2.0"/>
<line x1="600.10" y1="11.90" x2="600.10" y2="21.50" stroke="#000" stroke-width="2.0"/>
<line x1="600.10" y1="222.50" x2="600.10" y2="241.70" stroke="#000" stroke-width="2.0"/>
<line x1="600.10" y1="421.10" x2="600.10" y2="440.30" stroke="#000" stroke-width="2.0"/>
<line x1="600.10" y1="618.70" x2="600.10" y2="628.30" stroke="#000" stroke-width="2.0"/>
<line x1="639.03" y1="11.90" x2="639.03" y2="17.30" stroke="#000" stroke-width="2.0"/>
<line x1="639.03" y1="226.70" x2="639.03" y2="237.50" stroke="#000" stroke-width="2.0"/>
<line x1="639.03" y1="425.30" x2="639.03" y2="436.10" stroke="#000" stroke-width="2.0"/>
<line x1="639.03" y1="622.90" x2="639.03" y2="628.30" stroke="#000" stroke-width="2.0"/>
<line x1="677.95" y1="11.90" x2="677.95" y2="21.50" stroke="#000" stroke-width="2.0"/>
<line x1="677.95" y1="222.50" x2="677.95" y2="241.70" stroke="#000" stroke-width="2.0"/>
<line x1="677.95" y1="421.10" x2="677.95" y2="440.30" stroke="#000" stroke-width="2.0"/>
<line x1="677.95" y1="622.90" x2="677.95" y2="628.30" stroke="#000" stroke-width="2.0"/>
<line x1="716.88" y1="11.90" x2="716.88" y2="17.30" stroke="#000" stroke-width="2.0"/>
<line x1="716.88" y1="226.70" x2="716.88" y2="237.50" stroke="#000" stroke-width="2.0"/>
<line x1="716.88" y1="425.30" x2="716.88" y2="436.10" stroke="#000" stroke-width="2.0"/>
<line x1="716.88" y1="622.90" x2="716.88" y2="628.30" stroke="#000" stroke-width="2.0"/>
<line x1="755.80" y1="11.90" x2="755.80" y2="21.50" stroke="#000" stroke-width="2.0"/>
<line x1="755.80" y1="222.50" x2="755.80" y2="241.70" stroke="#000" stroke-width="2.0"/>
<line x1="755.80" y1="421.10" x2="755.80" y2="440.30" stroke="#000" stroke-width="2.0"/>
<line x1="755.80" y1="618.70" x2="755.80" y2="628.30" stroke="#000" stroke-width="2.0"/>
<line x1="133.00" y1="216.90" x2="141.00" y2="216.90" stroke="#000" stroke-width="2.0"/>
<line x1="763.60" y1="216.90" x2="771.60" y2="216.90" stroke="#000" stroke-width="2.0"/>
<line x1="133.00" y1="169.34" x2="141.00" y2="169.34" stroke="#000" stroke-width="2.0"/>
<line x1="763.60" y1="169.34" x2="771.60" y2="169.34" stroke="#000" stroke-width="2.0"/>
<line x1="133.00" y1="58.90" x2="141.00" y2="58.90" stroke="#000" stroke-width="2.0"/>
<line x1="763.60" y1="58.90" x2="771.60" y2="58.90" stroke="#000" stroke-width="2.0"/>
<line x1="133.00" y1="224.13" x2="137.50" y2="224.13" stroke="#000" stroke-width="2.0"/>
<line x1="767.10" y1="224.13" x2="771.60" y2="224.13" stroke="#000" stroke-width="2.0"/>
<line x1="133.00" y1="141.51" x2="137.50" y2="141.51" stroke="#000" stroke-width="2.0"/>
<line x1="767.10" y1="141.51" x2="771.60" y2="141.51" stroke="#000" stroke-width="2.0"/>
<line x1="133.00" y1="121.77" x2="137.50" y2="121.77" stroke="#000" stroke-width="2.0"/>
<line x1="767.10" y1="121.77" x2="771.60" y2="121.77" stroke="#000" stroke-width="2.0"/>
<line x1="133.00" y1="106.46" x2="137.50" y2="106.46" stroke="#000" stroke-width="2.0"/>
<line x1="767.10" y1="106.46" x2="771.60" y2="106.46" stroke="#000" stroke-width="2.0"/>
<line x1="133.00" y1="93.95" x2="137.50" y2="93.95" stroke="#000" stroke-width="2.0"/>
<line x1="767.10" y1="93.95" x2="771.60" y2="93.95" stroke="#000" stroke-width="2.0"/>
<line x1="133.00" y1="83.37" x2="137.50" y2="83.37" stroke="#000" stroke-width="2.0"/>
<line x1="767.10" y1="83.37" x2="771.60" y2="83.37" stroke="#000" stroke-width="2.0"/>
<line x1="133.00" y1="74.21" x2="137.50" y2="74.21" stroke="#000" stroke-width="2.0"/>
<line x1="767.10" y1="74.21" x2="771.60" y2="74.21" stroke="#000" stroke-width="2.0"/>
<line x1="133.00" y1="66.13" x2="137.50" y2="66.13" stroke="#000" stroke-width="2.0"/>
<line x1="767.10" y1="66.13" x2="771.60" y2="66.13" stroke="#000" stroke-width="2.0"/>
<line x1="133.00" y1="251.40" x2="138.40" y2="251.40" stroke="#000" stroke-width="2.0"/>
<line x1="766.20" y1="251.40" x2="771.60" y2="251.40" stroke="#000" stroke-width="2.0"/>
<line x1="133.00" y1="270.20" x2="142.60" y2="270.20" stroke="#000" stroke-width="2.0"/>
<line x1="762.00" y1="270.20" x2="771.60" y2="270.20" stroke="#000" stroke-width="2.0"/>
<line x1="133.00" y1="289.00" x2="138.40" y2="289.00" stroke="#000" stroke-width="2.0"/>
<line x1="766.20" y1="289.00" x2="771.60" y2="289.00" stroke="#000" stroke-width="2.0"/>
<line x1="133.00" y1="307.80" x2="142.60" y2="307.80" stroke="#000" stroke-width="2.0"/>
<line x1="762.00" y1="307.80" x2="771.60" y2="307.80" stroke="#000" stroke-width="2.0"/>
<line x1="133.00" y1="326.60" x2="138.40" y2="326.60" stroke="#000" stroke-width="2.0"/>
<line x1="766.20" y1="326.60" x2="771.60" y2="326.60" stroke="#000" stroke-width="2.0"/>
<line x1="133.00" y1="345.40" x2="142.60" y2="345.40" stroke="#000" stroke-width="2.0"/>
<line x1="762.00" y1="345.40" x2="771.60" y2="345.40" stroke="#000" stroke-width="2.0"/>
<line x1="133.00" y1="364.20" x2="138.40" y2="364.20" stroke="#000" stroke-width="2.0"/>
<line x1="766.20" y1="364.20" x2="771.60" y2="364.20" stroke="#000" stroke-width="2.0"/>
<line x1="133.00" y1="383.00" x2="142.60" y2="383.00" stroke="#000" stroke-width="2.0"/>
<line x1="762.00" y1="383.00" x2="771.60" y2="383.00" stroke="#000" stroke-width="2.0"/>
<line x1="133.00" y1="401.80" x2="138.40" y2="401.80" stroke="#000" stroke-width="2.0"/>
<line x1="766.20" y1="401.80" x2="771.60" y2="401.80" stroke="#000" stroke-width="2.0"/>
<line x1="133.00" y1="420.60" x2="142.60" y2="420.60" stroke="#000" stroke-width="2.0"/>
<line x1="762.00" y1="420.60" x2="771.60" y2="420.60" stroke="#000" stroke-width="2.0"/>
<line x1="133.00" y1="616.35" x2="138.40" y2="616.35" stroke="#000" stroke-width="2.0"/>
<line x1="766.20" y1="616.35" x2="771.60" y2="616.35" stroke="#000" stroke-width="2.0"/>
<line x1="133.00" y1="608.14" x2="138.40" y2="608.14" stroke="#000" stroke-width="2.0"/>
<line x1="766.20" y1="608.14" x2="771.60" y2="608.14" stroke="#000" stroke-width="2.0"/>
<line x1="133.00" y1="601.78" x2="138.40" y2="601.78" stroke="#000" stroke-width="2.0"/>
<line x1="766.20" y1="601.78" x2="771.60" y2="601.78" stroke="#000" stroke-width="2.0"/>
<line x1="133.00" y1="596.58" x2="138.40" y2="596.58" stroke="#000" stroke-width="2.0"/>
<line x1="766.20" y1="596.58" x2="771.60" y2="596.58" stroke="#000" stroke-width="2.0"/>
<line x1="133.00" y1="592.18" x2="138.40" y2="592.18" stroke="#000" stroke-width="2.0"/>
<line x1="766.20" y1="592.18" x2="771.60" y2="592.18" stroke="#000" stroke-width="2.0"/>
<line x1="133.00" y1="588.37" x2="138.40" y2="588.37" stroke="#000" stroke-width="2.0"/>
<line x1="766.20" y1="588.37" x2="771.60" y2="588.37" stroke="#000" stroke-width="2.0"/>
<line x1="133.00" y1="585.01" x2="138.40" y2="585.01" stroke="#000" stroke-width="2.0"/>
<line x1="766.20" y1="585.01" x2="771.60" y2="585.01" stroke="#000" stroke-width="2.0"/>
<line x1="133.00" y1="582.00" x2="142.60" y2="582.00" stroke="#000" stroke-width="2.0"/>
<line x1="762.00" y1="582.00" x2="771.60" y2="582.00" stroke="#000" stroke-width="2.0"/>
<line x1="133.00" y1="562.22" x2="138.40" y2="562.22" stroke="#000" stroke-width="2.0"/>
<line x1="766.20" y1="562.22" x2="771.60" y2="562.22" stroke="#000" stroke-width="2.0"/>
<line x1="133.00" y1="550.65" x2="138.40" y2="550.65" stroke="#000" stroke-width="2.0"/>
<line x1="766.20" y1="550.65" x2="771.60" y2="550.65" stroke="#000" stroke-width="2.0"/>
<line x1="133.00" y1="542.44" x2="138.40" y2="542.44" stroke="#000" stroke-width="2.0"/>
<line x1="766.20" y1="542.44" x2="771.60" y2="542.44" stroke="#000" stroke-width="2.0"/>
<line x1="133.00" y1="536.08" x2="138.40" y2="536.08" stroke="#000" stroke-width="2.0"/>
<line x1="766.20" y1="536.08" x2="771.60" y2="536.08" stroke="#000" stroke-width="2.0"/>
<line x1="133.00" y1="530.88" x2="138.40" y2="530.88" stroke="#000" stroke-width="2.0"/>
<line x1="766.20" y1="530.88" x2="771.60" y2="530.88" stroke="#000" stroke-width="2.0"/>
<line x1="133.00" y1="526.48" x2="138.40" y2="526.48" stroke="#000" stroke-width="2.0"/>
<line x1="766.20" y1="526.48" x2="771.60" y2="526.48" stroke="#000" stroke-width="2.0"/>
<line x1="133.00" y1="522.67" x2="138.40" y2="522.67" stroke="#000" stroke-width="2.0"/>
<line x1="766.20" y1="522.67" x2="771.60" y2="522.67" stroke="#000" stroke-width="2.0"/>
<line x1="133.00" y1="519.31" x2="138.40" y2="519.31" stroke="#000" stroke-width="2.0"/>
<line x1="766.20" y1="519.31" x2="771.60" y2="519.31" stroke="#000" stroke-width="2.0"/>
<line x1="133.00" y1="516.30" x2="142.60" y2="516.30" stroke="#000" stroke-width="2.0"/>
<line x1="762.00" y1="516.30" x2="771.60" y2="516.30" stroke="#000" stroke-width="2.0"/>
<line x1="133.00" y1="496.52" x2="138.40" y2="496.52" stroke="#000" stroke-width="2.0"/>
<line x1="766.20" y1="496.52" x2="771.60" y2="496.52" stroke="#000" stroke-width="2.0"/>
<line x1="133.00" y1="484.95" x2="138.40" y2="484.95" stroke="#000" stroke-width="2.0"/>
<line x1="766.20" y1="484.95" x2="771.60" y2="484.95" stroke="#000" stroke-width="2.0"/>
<line x1="133.00" y1="476.74" x2="138.40" y2="476.74" stroke="#000" stroke-width="2.0"/>
<line x1="766.20" y1="476.74" x2="771.60" y2="476.74" stroke="#000" stroke-width="2.0"/>
<line x1="133.00" y1="470.38" x2="138.40" y2="470.38" stroke="#000" stroke-width="2.0"/>
<line x1="766.20" y1="470.38" x2="771.60" y2="470.38" stroke="#000" stroke-width="2.0"/>
<line x1="133.00" y1="465.18" x2="138.40" y2="465.18" stroke="#000" stroke-width="2.0"/>
<line x1="766.20" y1="465.18" x2="771.60" y2="465.18" stroke="#000" stroke-width="2.0"/>
<line x1="133.00" y1="460.78" x2="138.40" y2="460.78" stroke="#000" stroke-width="2.0"/>
<line x1="766.20" y1="460.78" x2="771.60" y2="460.78" stroke="#000" stroke-width="2.0"/>
<line x1="133.00" y1="456.97" x2="138.40" y2="456.97" stroke="#000" stroke-width="2.0"/>
<line x1="766.20" y1="456.97" x2="771.60" y2="456.97" stroke="#000" stroke-width="2.0"/>
<line x1="133.00" y1="453.61" x2="138.40" y2="453.61" stroke="#000" stroke-width="2.0"/>
<line x1="766.20" y1="453.61" x2="771.60" y2="453.61" stroke="#000" stroke-width="2.0"/>
<line x1="133.00" y1="450.60" x2="142.60" y2="450.60" stroke="#000" stroke-width="2.0"/>
<line x1="762.00" y1="450.60" x2="771.60" y2="450.60" stroke="#000" stroke-width="2.0"/>
<rect x="145.9" y="18.9" width="240.6" height="62.9" fill="#fff" stroke="#7a7a7a" stroke-width="1"/>
<path d="M175.2,31 L184.8,35.8 L175.2,40.6 Z" fill="#0000ff"/>
<circle cx="178.9" cy="66.6" r="3.7" fill="none" stroke="#ff0000" stroke-width="1.3"/>
<text x="213.0" y="43.9" font-size="25.25">Scanned source</text>
<text x="213.0" y="73.6" font-size="25.25">Single source</text>
<text transform="translate(124.7,69.0) scale(1,1.1)" font-size="29.6" text-anchor="end">10</text>
<text transform="translate(124.3,178.7) scale(1,1.1)" font-size="29.6" text-anchor="end">2</text>
<text transform="translate(123.9,226.1) scale(1,1.1)" font-size="29.6" text-anchor="end">1</text>
<text transform="translate(122.4,280.6) scale(1,1.1)" font-size="29.6" text-anchor="end">-0.2</text>
<text transform="translate(122.4,318.2) scale(1,1.1)" font-size="29.6" text-anchor="end">-0.4</text>
<text transform="translate(122.4,355.8) scale(1,1.1)" font-size="29.6" text-anchor="end">-0.6</text>
<text transform="translate(122.4,393.4) scale(1,1.1)" font-size="29.6" text-anchor="end">-0.8</text>
<text transform="translate(122.4,431.0) scale(1,1.1)" font-size="29.6" text-anchor="end">-1.0</text>
<text transform="translate(122.2,462.9) scale(1,1.1)" font-size="29.6" text-anchor="end">10<tspan font-size="16.5" dy="-14.3">-1</tspan></text>
<text transform="translate(122.2,528.6) scale(1,1.1)" font-size="29.6" text-anchor="end">10<tspan font-size="16.5" dy="-14.3">-2</tspan></text>
<text transform="translate(122.2,594.3) scale(1,1.1)" font-size="29.6" text-anchor="end">10<tspan font-size="16.5" dy="-14.3">-3</tspan></text>
<text transform="translate(133.0,663.2) scale(1,1.1)" font-size="29.6" text-anchor="middle">0.6</text>
<text transform="translate(288.7,663.2) scale(1,1.1)" font-size="29.6" text-anchor="middle">0.8</text>
<text transform="translate(444.4,663.2) scale(1,1.1)" font-size="29.6" text-anchor="middle">1.0</text>
<text transform="translate(600.1,663.2) scale(1,1.1)" font-size="29.6" text-anchor="middle">1.2</text>
<text transform="translate(755.8,663.2) scale(1,1.1)" font-size="29.6" text-anchor="middle">1.4</text>
<text x="721.3" y="51" font-size="27.5">(a)</text>
<text x="723.2" y="270.9" font-size="27.5">(b)</text>
<text x="723.2" y="471" font-size="27.5">(c)</text>
<text transform="translate(317.8,704.9) scale(1,0.955)" font-size="35.1" letter-spacing="0.08">Frequency (MHz)</text>
<text transform="translate(41.2,625.6) rotate(-90)" font-size="34.85">Transmission</text>
<text transform="translate(38.3,346.3) rotate(-90)" font-size="32">Δ<tspan font-family="'Liberation Sans',sans-serif" font-size="20.5" dy="12.8">2</tspan></text>
<text transform="translate(44.9,204.40) rotate(-90)" font-size="35" text-anchor="middle" style="font-style:italic">C</text>
<text transform="translate(59.8,183.60) rotate(-90)" font-size="20.5" text-anchor="middle" style="font-style:italic">ω</text>
<text transform="translate(44.9,174.70) rotate(-90)" font-size="35.5" text-anchor="middle">(</text>
<text transform="translate(44.9,157.80) rotate(-90)" font-size="32.5" text-anchor="middle">Δ</text>
<text transform="translate(44.9,141.70) rotate(-90)" font-size="35" text-anchor="middle" style="font-style:italic">r</text>
<path d="M37.1,134.7V107" stroke="#000" stroke-width="1.7" fill="none"/>
<path d="M28.9,116.3C33,113.5 36,110 37.1,105.6C38.2,110 41.2,113.5 45.4,116.3" stroke="#000" stroke-width="2.2" fill="none" stroke-linejoin="miter"/>
<text transform="translate(48.0,93.85) rotate(-90)" font-size="36" text-anchor="middle">∞</text>
<text transform="translate(44.9,75.95) rotate(-90)" font-size="35.5" text-anchor="middle">)</text>
<text transform="translate(44.9,51.20) rotate(-90)" font-size="35" text-anchor="middle">+</text>
<text transform="translate(44.9,23.70) rotate(-90)" font-size="35" text-anchor="middle">1</text>
</svg>
</body></html>
